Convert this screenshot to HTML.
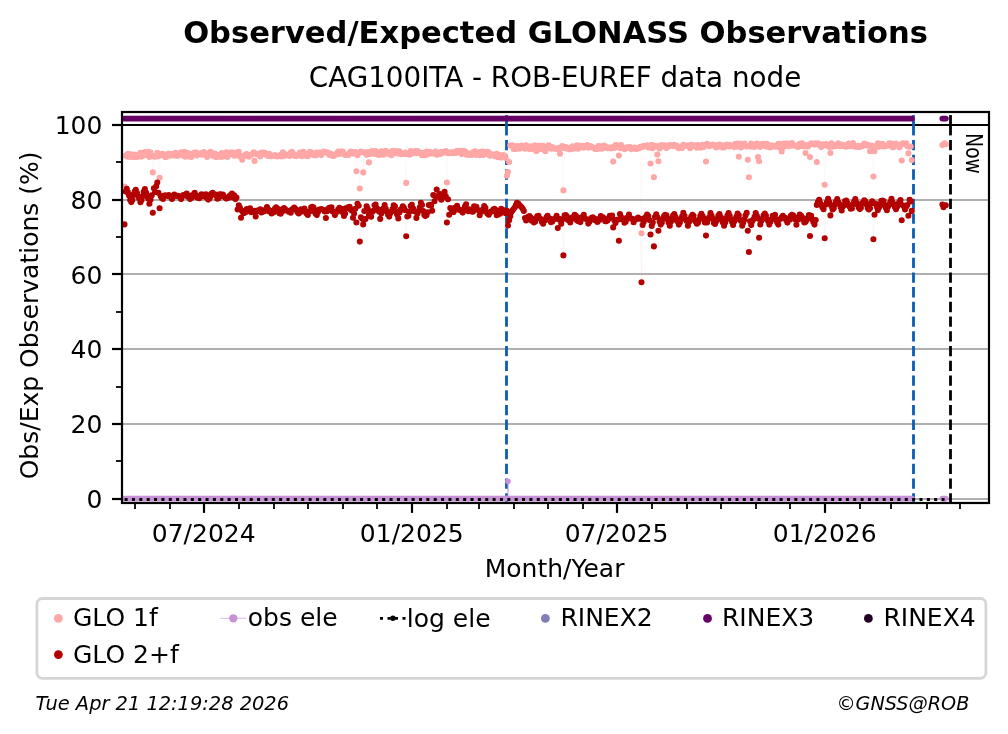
<!DOCTYPE html>
<html lang="en"><head><meta charset="utf-8"><title>Observed/Expected GLONASS Observations</title>
<style>html,body{margin:0;padding:0;background:#fff}svg text{fill:#000}</style></head>
<body>
<svg width="1008" height="734" viewBox="0 0 1008 734" style="display:block;will-change:transform;font-family:'DejaVu Sans','Liberation Sans',sans-serif">
<rect width="1008" height="734" fill="#fff"/>
<defs><clipPath id="ax"><rect x="122.0" y="112.0" width="867.0" height="391.0"/></clipPath></defs>
<g clip-path="url(#ax)">
<line x1="122.0" x2="989.0" y1="499" y2="499" stroke="#b0b0b0" stroke-width="2.2"/>
<line x1="122.0" x2="989.0" y1="424" y2="424" stroke="#b0b0b0" stroke-width="2.2"/>
<line x1="122.0" x2="989.0" y1="349" y2="349" stroke="#b0b0b0" stroke-width="2.2"/>
<line x1="122.0" x2="989.0" y1="274" y2="274" stroke="#b0b0b0" stroke-width="2.2"/>
<line x1="122.0" x2="989.0" y1="200" y2="200" stroke="#b0b0b0" stroke-width="2.2"/>
<line x1="122.0" x2="989.0" y1="125" y2="125" stroke="#000" stroke-width="2.1"/>
<line x1="506.5" x2="506.5" y1="503.5" y2="135.2" stroke="#0b5cb5" stroke-width="2.8" stroke-dasharray="10.3 4.42"/><line x1="506.5" x2="506.5" y1="135.2" y2="115.07" stroke="#0b5cb5" stroke-width="2.8"/>
<line x1="913.5" x2="913.5" y1="503.5" y2="135.2" stroke="#0b5cb5" stroke-width="2.8" stroke-dasharray="10.3 4.42"/><line x1="913.5" x2="913.5" y1="135.2" y2="115.07" stroke="#0b5cb5" stroke-width="2.8"/>
<line x1="950.5" x2="950.5" y1="503.5" y2="135.2" stroke="#000" stroke-width="2.8" stroke-dasharray="10.3 4.42"/><line x1="950.5" x2="950.5" y1="135.2" y2="115.07" stroke="#000" stroke-width="2.8"/>
<polyline points="124.5,498.6 125.6,498.6 126.8,498.6 127.9,498.6 129.0,498.6 130.2,498.6 131.3,498.6 132.4,498.6 133.6,498.6 134.7,498.6 135.8,498.6 137.0,498.6 138.1,498.6 139.2,498.6 140.4,498.6 141.5,498.6 142.6,498.6 143.7,498.6 144.9,498.6 146.0,498.6 147.1,498.6 148.3,498.6 149.4,498.6 150.5,498.6 151.7,498.6 152.8,498.6 153.9,498.6 155.1,498.6 156.2,498.6 157.3,498.6 158.5,498.6 159.6,498.6 160.7,498.6 161.8,498.6 163.0,498.6 164.1,498.6 165.2,498.6 166.4,498.6 167.5,498.6 168.6,498.6 169.8,498.6 170.9,498.6 172.0,498.6 173.2,498.6 174.3,498.6 175.4,498.6 176.6,498.6 177.7,498.6 178.8,498.6 179.9,498.6 181.1,498.6 182.2,498.6 183.3,498.6 184.5,498.6 185.6,498.6 186.7,498.6 187.9,498.6 189.0,498.6 190.1,498.6 191.3,498.6 192.4,498.6 193.5,498.6 194.7,498.6 195.8,498.6 196.9,498.6 198.0,498.6 199.2,498.6 200.3,498.6 201.4,498.6 202.6,498.6 203.7,498.6 204.8,498.6 206.0,498.6 207.1,498.6 208.2,498.6 209.4,498.6 210.5,498.6 211.6,498.6 212.7,498.6 213.9,498.6 215.0,498.6 216.1,498.6 217.3,498.6 218.4,498.6 219.5,498.6 220.7,498.6 221.8,498.6 222.9,498.6 224.1,498.6 225.2,498.6 226.3,498.6 227.5,498.6 228.6,498.6 229.7,498.6 230.8,498.6 232.0,498.6 233.1,498.6 234.2,498.6 235.4,498.6 236.5,498.6 237.6,498.6 238.8,498.6 239.9,498.6 241.0,498.6 242.2,498.6 243.3,498.6 244.4,498.6 245.6,498.6 246.7,498.6 247.8,498.6 248.9,498.6 250.1,498.6 251.2,498.6 252.3,498.6 253.5,498.6 254.6,498.6 255.7,498.6 256.9,498.6 258.0,498.6 259.1,498.6 260.3,498.6 261.4,498.6 262.5,498.6 263.7,498.6 264.8,498.6 265.9,498.6 267.0,498.6 268.2,498.6 269.3,498.6 270.4,498.6 271.6,498.6 272.7,498.6 273.8,498.6 275.0,498.6 276.1,498.6 277.2,498.6 278.4,498.6 279.5,498.6 280.6,498.6 281.8,498.6 282.9,498.6 284.0,498.6 285.1,498.6 286.3,498.6 287.4,498.6 288.5,498.6 289.7,498.6 290.8,498.6 291.9,498.6 293.1,498.6 294.2,498.6 295.3,498.6 296.5,498.6 297.6,498.6 298.7,498.6 299.9,498.6 301.0,498.6 302.1,498.6 303.2,498.6 304.4,498.6 305.5,498.6 306.6,498.6 307.8,498.6 308.9,498.6 310.0,498.6 311.2,498.6 312.3,498.6 313.4,498.6 314.6,498.6 315.7,498.6 316.8,498.6 318.0,498.6 319.1,498.6 320.2,498.6 321.3,498.6 322.5,498.6 323.6,498.6 324.7,498.6 325.9,498.6 327.0,498.6 328.1,498.6 329.3,498.6 330.4,498.6 331.5,498.6 332.7,498.6 333.8,498.6 334.9,498.6 336.1,498.6 337.2,498.6 338.3,498.6 339.4,498.6 340.6,498.6 341.7,498.6 342.8,498.6 344.0,498.6 345.1,498.6 346.2,498.6 347.4,498.6 348.5,498.6 349.6,498.6 350.8,498.6 351.9,498.6 353.0,498.6 354.1,498.6 355.3,498.6 356.4,498.6 357.5,498.6 358.7,498.6 359.8,498.6 360.9,498.6 362.1,498.6 363.2,498.6 364.3,498.6 365.5,498.6 366.6,498.6 367.7,498.6 368.9,498.6 370.0,498.6 371.1,498.6 372.2,498.6 373.4,498.6 374.5,498.6 375.6,498.6 376.8,498.6 377.9,498.6 379.0,498.6 380.2,498.6 381.3,498.6 382.4,498.6 383.6,498.6 384.7,498.6 385.8,498.6 387.0,498.6 388.1,498.6 389.2,498.6 390.3,498.6 391.5,498.6 392.6,498.6 393.7,498.6 394.9,498.6 396.0,498.6 397.1,498.6 398.3,498.6 399.4,498.6 400.5,498.6 401.7,498.6 402.8,498.6 403.9,498.6 405.1,498.6 406.2,498.6 407.3,498.6 408.4,498.6 409.6,498.6 410.7,498.6 411.8,498.6 413.0,498.6 414.1,498.6 415.2,498.6 416.4,498.6 417.5,498.6 418.6,498.6 419.8,498.6 420.9,498.6 422.0,498.6 423.2,498.6 424.3,498.6 425.4,498.6 426.5,498.6 427.7,498.6 428.8,498.6 429.9,498.6 431.1,498.6 432.2,498.6 433.3,498.6 434.5,498.6 435.6,498.6 436.7,498.6 437.9,498.6 439.0,498.6 440.1,498.6 441.3,498.6 442.4,498.6 443.5,498.6 444.6,498.6 445.8,498.6 446.9,498.6 448.0,498.6 449.2,498.6 450.3,498.6 451.4,498.6 452.6,498.6 453.7,498.6 454.8,498.6 456.0,498.6 457.1,498.6 458.2,498.6 459.4,498.6 460.5,498.6 461.6,498.6 462.7,498.6 463.9,498.6 465.0,498.6 466.1,498.6 467.3,498.6 468.4,498.6 469.5,498.6 470.7,498.6 471.8,498.6 472.9,498.6 474.1,498.6 475.2,498.6 476.3,498.6 477.5,498.6 478.6,498.6 479.7,498.6 480.8,498.6 482.0,498.6 483.1,498.6 484.2,498.6 485.4,498.6 486.5,498.6 487.6,498.6 488.8,498.6 489.9,498.6 491.0,498.6 492.2,498.6 493.3,498.6 494.4,498.6 495.5,498.6 496.7,498.6 497.8,498.6 498.9,498.6 500.1,498.6 501.2,498.6 502.3,498.6 503.5,498.6 504.6,498.6 505.7,498.6 506.9,498.6 508.0,481.3 509.1,498.6 510.3,498.6 511.4,498.6 512.5,498.6 513.6,498.6 514.8,498.6 515.9,498.6 517.0,498.6 518.2,498.6 519.3,498.6 520.4,498.6 521.6,498.6 522.7,498.6 523.8,498.6 525.0,498.6 526.1,498.6 527.2,498.6 528.4,498.6 529.5,498.6 530.6,498.6 531.7,498.6 532.9,498.6 534.0,498.6 535.1,498.6 536.3,498.6 537.4,498.6 538.5,498.6 539.7,498.6 540.8,498.6 541.9,498.6 543.1,498.6 544.2,498.6 545.3,498.6 546.5,498.6 547.6,498.6 548.7,498.6 549.8,498.6 551.0,498.6 552.1,498.6 553.2,498.6 554.4,498.6 555.5,498.6 556.6,498.6 557.8,498.6 558.9,498.6 560.0,498.6 561.2,498.6 562.3,498.6 563.4,498.6 564.6,498.6 565.7,498.6 566.8,498.6 567.9,498.6 569.1,498.6 570.2,498.6 571.3,498.6 572.5,498.6 573.6,498.6 574.7,498.6 575.9,498.6 577.0,498.6 578.1,498.6 579.3,498.6 580.4,498.6 581.5,498.6 582.7,498.6 583.8,498.6 584.9,498.6 586.0,498.6 587.2,498.6 588.3,498.6 589.4,498.6 590.6,498.6 591.7,498.6 592.8,498.6 594.0,498.6 595.1,498.6 596.2,498.6 597.4,498.6 598.5,498.6 599.6,498.6 600.8,498.6 601.9,498.6 603.0,498.6 604.1,498.6 605.3,498.6 606.4,498.6 607.5,498.6 608.7,498.6 609.8,498.6 610.9,498.6 612.1,498.6 613.2,498.6 614.3,498.6 615.5,498.6 616.6,498.6 617.7,498.6 618.9,498.6 620.0,498.6 621.1,498.6 622.2,498.6 623.4,498.6 624.5,498.6 625.6,498.6 626.8,498.6 627.9,498.6 629.0,498.6 630.2,498.6 631.3,498.6 632.4,498.6 633.6,498.6 634.7,498.6 635.8,498.6 636.9,498.6 638.1,498.6 639.2,498.6 640.3,498.6 641.5,498.6 642.6,498.6 643.7,498.6 644.9,498.6 646.0,498.6 647.1,498.6 648.3,498.6 649.4,498.6 650.5,498.6 651.7,498.6 652.8,498.6 653.9,498.6 655.0,498.6 656.2,498.6 657.3,498.6 658.4,498.6 659.6,498.6 660.7,498.6 661.8,498.6 663.0,498.6 664.1,498.6 665.2,498.6 666.4,498.6 667.5,498.6 668.6,498.6 669.8,498.6 670.9,498.6 672.0,498.6 673.1,498.6 674.3,498.6 675.4,498.6 676.5,498.6 677.7,498.6 678.8,498.6 679.9,498.6 681.1,498.6 682.2,498.6 683.3,498.6 684.5,498.6 685.6,498.6 686.7,498.6 687.9,498.6 689.0,498.6 690.1,498.6 691.2,498.6 692.4,498.6 693.5,498.6 694.6,498.6 695.8,498.6 696.9,498.6 698.0,498.6 699.2,498.6 700.3,498.6 701.4,498.6 702.6,498.6 703.7,498.6 704.8,498.6 706.0,498.6 707.1,498.6 708.2,498.6 709.3,498.6 710.5,498.6 711.6,498.6 712.7,498.6 713.9,498.6 715.0,498.6 716.1,498.6 717.3,498.6 718.4,498.6 719.5,498.6 720.7,498.6 721.8,498.6 722.9,498.6 724.1,498.6 725.2,498.6 726.3,498.6 727.4,498.6 728.6,498.6 729.7,498.6 730.8,498.6 732.0,498.6 733.1,498.6 734.2,498.6 735.4,498.6 736.5,498.6 737.6,498.6 738.8,498.6 739.9,498.6 741.0,498.6 742.2,498.6 743.3,498.6 744.4,498.6 745.5,498.6 746.7,498.6 747.8,498.6 748.9,498.6 750.1,498.6 751.2,498.6 752.3,498.6 753.5,498.6 754.6,498.6 755.7,498.6 756.9,498.6 758.0,498.6 759.1,498.6 760.3,498.6 761.4,498.6 762.5,498.6 763.6,498.6 764.8,498.6 765.9,498.6 767.0,498.6 768.2,498.6 769.3,498.6 770.4,498.6 771.6,498.6 772.7,498.6 773.8,498.6 775.0,498.6 776.1,498.6 777.2,498.6 778.3,498.6 779.5,498.6 780.6,498.6 781.7,498.6 782.9,498.6 784.0,498.6 785.1,498.6 786.3,498.6 787.4,498.6 788.5,498.6 789.7,498.6 790.8,498.6 791.9,498.6 793.1,498.6 794.2,498.6 795.3,498.6 796.4,498.6 797.6,498.6 798.7,498.6 799.8,498.6 801.0,498.6 802.1,498.6 803.2,498.6 804.4,498.6 805.5,498.6 806.6,498.6 807.8,498.6 808.9,498.6 810.0,498.6 811.2,498.6 812.3,498.6 813.4,498.6 814.5,498.6 815.7,498.6 816.8,498.6 817.9,498.6 819.1,498.6 820.2,498.6 821.3,498.6 822.5,498.6 823.6,498.6 824.7,498.6 825.9,498.6 827.0,498.6 828.1,498.6 829.3,498.6 830.4,498.6 831.5,498.6 832.6,498.6 833.8,498.6 834.9,498.6 836.0,498.6 837.2,498.6 838.3,498.6 839.4,498.6 840.6,498.6 841.7,498.6 842.8,498.6 844.0,498.6 845.1,498.6 846.2,498.6 847.4,498.6 848.5,498.6 849.6,498.6 850.7,498.6 851.9,498.6 853.0,498.6 854.1,498.6 855.3,498.6 856.4,498.6 857.5,498.6 858.7,498.6 859.8,498.6 860.9,498.6 862.1,498.6 863.2,498.6 864.3,498.6 865.5,498.6 866.6,498.6 867.7,498.6 868.8,498.6 870.0,498.6 871.1,498.6 872.2,498.6 873.4,498.6 874.5,498.6 875.6,498.6 876.8,498.6 877.9,498.6 879.0,498.6 880.2,498.6 881.3,498.6 882.4,498.6 883.6,498.6 884.7,498.6 885.8,498.6 886.9,498.6 888.1,498.6 889.2,498.6 890.3,498.6 891.5,498.6 892.6,498.6 893.7,498.6 894.9,498.6 896.0,498.6 897.1,498.6 898.3,498.6 899.4,498.6 900.5,498.6 901.7,498.6 902.8,498.6 903.9,498.6 905.0,498.6 906.2,498.6 907.3,498.6 908.4,498.6 909.6,498.6 910.7,498.6 911.8,498.6 942.4,498.6 943.5,498.6 944.6,498.6 945.8,498.6" stroke="#c791d6" stroke-width="1.0" stroke-opacity="0.6" fill="none"/>
<path d="M124.5 498.6h0M125.6 498.6h0M126.8 498.6h0M127.9 498.6h0M129.0 498.6h0M130.2 498.6h0M131.3 498.6h0M132.4 498.6h0M133.6 498.6h0M134.7 498.6h0M135.8 498.6h0M137.0 498.6h0M138.1 498.6h0M139.2 498.6h0M140.4 498.6h0M141.5 498.6h0M142.6 498.6h0M143.7 498.6h0M144.9 498.6h0M146.0 498.6h0M147.1 498.6h0M148.3 498.6h0M149.4 498.6h0M150.5 498.6h0M151.7 498.6h0M152.8 498.6h0M153.9 498.6h0M155.1 498.6h0M156.2 498.6h0M157.3 498.6h0M158.5 498.6h0M159.6 498.6h0M160.7 498.6h0M161.8 498.6h0M163.0 498.6h0M164.1 498.6h0M165.2 498.6h0M166.4 498.6h0M167.5 498.6h0M168.6 498.6h0M169.8 498.6h0M170.9 498.6h0M172.0 498.6h0M173.2 498.6h0M174.3 498.6h0M175.4 498.6h0M176.6 498.6h0M177.7 498.6h0M178.8 498.6h0M179.9 498.6h0M181.1 498.6h0M182.2 498.6h0M183.3 498.6h0M184.5 498.6h0M185.6 498.6h0M186.7 498.6h0M187.9 498.6h0M189.0 498.6h0M190.1 498.6h0M191.3 498.6h0M192.4 498.6h0M193.5 498.6h0M194.7 498.6h0M195.8 498.6h0M196.9 498.6h0M198.0 498.6h0M199.2 498.6h0M200.3 498.6h0M201.4 498.6h0M202.6 498.6h0M203.7 498.6h0M204.8 498.6h0M206.0 498.6h0M207.1 498.6h0M208.2 498.6h0M209.4 498.6h0M210.5 498.6h0M211.6 498.6h0M212.7 498.6h0M213.9 498.6h0M215.0 498.6h0M216.1 498.6h0M217.3 498.6h0M218.4 498.6h0M219.5 498.6h0M220.7 498.6h0M221.8 498.6h0M222.9 498.6h0M224.1 498.6h0M225.2 498.6h0M226.3 498.6h0M227.5 498.6h0M228.6 498.6h0M229.7 498.6h0M230.8 498.6h0M232.0 498.6h0M233.1 498.6h0M234.2 498.6h0M235.4 498.6h0M236.5 498.6h0M237.6 498.6h0M238.8 498.6h0M239.9 498.6h0M241.0 498.6h0M242.2 498.6h0M243.3 498.6h0M244.4 498.6h0M245.6 498.6h0M246.7 498.6h0M247.8 498.6h0M248.9 498.6h0M250.1 498.6h0M251.2 498.6h0M252.3 498.6h0M253.5 498.6h0M254.6 498.6h0M255.7 498.6h0M256.9 498.6h0M258.0 498.6h0M259.1 498.6h0M260.3 498.6h0M261.4 498.6h0M262.5 498.6h0M263.7 498.6h0M264.8 498.6h0M265.9 498.6h0M267.0 498.6h0M268.2 498.6h0M269.3 498.6h0M270.4 498.6h0M271.6 498.6h0M272.7 498.6h0M273.8 498.6h0M275.0 498.6h0M276.1 498.6h0M277.2 498.6h0M278.4 498.6h0M279.5 498.6h0M280.6 498.6h0M281.8 498.6h0M282.9 498.6h0M284.0 498.6h0M285.1 498.6h0M286.3 498.6h0M287.4 498.6h0M288.5 498.6h0M289.7 498.6h0M290.8 498.6h0M291.9 498.6h0M293.1 498.6h0M294.2 498.6h0M295.3 498.6h0M296.5 498.6h0M297.6 498.6h0M298.7 498.6h0M299.9 498.6h0M301.0 498.6h0M302.1 498.6h0M303.2 498.6h0M304.4 498.6h0M305.5 498.6h0M306.6 498.6h0M307.8 498.6h0M308.9 498.6h0M310.0 498.6h0M311.2 498.6h0M312.3 498.6h0M313.4 498.6h0M314.6 498.6h0M315.7 498.6h0M316.8 498.6h0M318.0 498.6h0M319.1 498.6h0M320.2 498.6h0M321.3 498.6h0M322.5 498.6h0M323.6 498.6h0M324.7 498.6h0M325.9 498.6h0M327.0 498.6h0M328.1 498.6h0M329.3 498.6h0M330.4 498.6h0M331.5 498.6h0M332.7 498.6h0M333.8 498.6h0M334.9 498.6h0M336.1 498.6h0M337.2 498.6h0M338.3 498.6h0M339.4 498.6h0M340.6 498.6h0M341.7 498.6h0M342.8 498.6h0M344.0 498.6h0M345.1 498.6h0M346.2 498.6h0M347.4 498.6h0M348.5 498.6h0M349.6 498.6h0M350.8 498.6h0M351.9 498.6h0M353.0 498.6h0M354.1 498.6h0M355.3 498.6h0M356.4 498.6h0M357.5 498.6h0M358.7 498.6h0M359.8 498.6h0M360.9 498.6h0M362.1 498.6h0M363.2 498.6h0M364.3 498.6h0M365.5 498.6h0M366.6 498.6h0M367.7 498.6h0M368.9 498.6h0M370.0 498.6h0M371.1 498.6h0M372.2 498.6h0M373.4 498.6h0M374.5 498.6h0M375.6 498.6h0M376.8 498.6h0M377.9 498.6h0M379.0 498.6h0M380.2 498.6h0M381.3 498.6h0M382.4 498.6h0M383.6 498.6h0M384.7 498.6h0M385.8 498.6h0M387.0 498.6h0M388.1 498.6h0M389.2 498.6h0M390.3 498.6h0M391.5 498.6h0M392.6 498.6h0M393.7 498.6h0M394.9 498.6h0M396.0 498.6h0M397.1 498.6h0M398.3 498.6h0M399.4 498.6h0M400.5 498.6h0M401.7 498.6h0M402.8 498.6h0M403.9 498.6h0M405.1 498.6h0M406.2 498.6h0M407.3 498.6h0M408.4 498.6h0M409.6 498.6h0M410.7 498.6h0M411.8 498.6h0M413.0 498.6h0M414.1 498.6h0M415.2 498.6h0M416.4 498.6h0M417.5 498.6h0M418.6 498.6h0M419.8 498.6h0M420.9 498.6h0M422.0 498.6h0M423.2 498.6h0M424.3 498.6h0M425.4 498.6h0M426.5 498.6h0M427.7 498.6h0M428.8 498.6h0M429.9 498.6h0M431.1 498.6h0M432.2 498.6h0M433.3 498.6h0M434.5 498.6h0M435.6 498.6h0M436.7 498.6h0M437.9 498.6h0M439.0 498.6h0M440.1 498.6h0M441.3 498.6h0M442.4 498.6h0M443.5 498.6h0M444.6 498.6h0M445.8 498.6h0M446.9 498.6h0M448.0 498.6h0M449.2 498.6h0M450.3 498.6h0M451.4 498.6h0M452.6 498.6h0M453.7 498.6h0M454.8 498.6h0M456.0 498.6h0M457.1 498.6h0M458.2 498.6h0M459.4 498.6h0M460.5 498.6h0M461.6 498.6h0M462.7 498.6h0M463.9 498.6h0M465.0 498.6h0M466.1 498.6h0M467.3 498.6h0M468.4 498.6h0M469.5 498.6h0M470.7 498.6h0M471.8 498.6h0M472.9 498.6h0M474.1 498.6h0M475.2 498.6h0M476.3 498.6h0M477.5 498.6h0M478.6 498.6h0M479.7 498.6h0M480.8 498.6h0M482.0 498.6h0M483.1 498.6h0M484.2 498.6h0M485.4 498.6h0M486.5 498.6h0M487.6 498.6h0M488.8 498.6h0M489.9 498.6h0M491.0 498.6h0M492.2 498.6h0M493.3 498.6h0M494.4 498.6h0M495.5 498.6h0M496.7 498.6h0M497.8 498.6h0M498.9 498.6h0M500.1 498.6h0M501.2 498.6h0M502.3 498.6h0M503.5 498.6h0M504.6 498.6h0M505.7 498.6h0M506.9 498.6h0M508.0 481.3h0M509.1 498.6h0M510.3 498.6h0M511.4 498.6h0M512.5 498.6h0M513.6 498.6h0M514.8 498.6h0M515.9 498.6h0M517.0 498.6h0M518.2 498.6h0M519.3 498.6h0M520.4 498.6h0M521.6 498.6h0M522.7 498.6h0M523.8 498.6h0M525.0 498.6h0M526.1 498.6h0M527.2 498.6h0M528.4 498.6h0M529.5 498.6h0M530.6 498.6h0M531.7 498.6h0M532.9 498.6h0M534.0 498.6h0M535.1 498.6h0M536.3 498.6h0M537.4 498.6h0M538.5 498.6h0M539.7 498.6h0M540.8 498.6h0M541.9 498.6h0M543.1 498.6h0M544.2 498.6h0M545.3 498.6h0M546.5 498.6h0M547.6 498.6h0M548.7 498.6h0M549.8 498.6h0M551.0 498.6h0M552.1 498.6h0M553.2 498.6h0M554.4 498.6h0M555.5 498.6h0M556.6 498.6h0M557.8 498.6h0M558.9 498.6h0M560.0 498.6h0M561.2 498.6h0M562.3 498.6h0M563.4 498.6h0M564.6 498.6h0M565.7 498.6h0M566.8 498.6h0M567.9 498.6h0M569.1 498.6h0M570.2 498.6h0M571.3 498.6h0M572.5 498.6h0M573.6 498.6h0M574.7 498.6h0M575.9 498.6h0M577.0 498.6h0M578.1 498.6h0M579.3 498.6h0M580.4 498.6h0M581.5 498.6h0M582.7 498.6h0M583.8 498.6h0M584.9 498.6h0M586.0 498.6h0M587.2 498.6h0M588.3 498.6h0M589.4 498.6h0M590.6 498.6h0M591.7 498.6h0M592.8 498.6h0M594.0 498.6h0M595.1 498.6h0M596.2 498.6h0M597.4 498.6h0M598.5 498.6h0M599.6 498.6h0M600.8 498.6h0M601.9 498.6h0M603.0 498.6h0M604.1 498.6h0M605.3 498.6h0M606.4 498.6h0M607.5 498.6h0M608.7 498.6h0M609.8 498.6h0M610.9 498.6h0M612.1 498.6h0M613.2 498.6h0M614.3 498.6h0M615.5 498.6h0M616.6 498.6h0M617.7 498.6h0M618.9 498.6h0M620.0 498.6h0M621.1 498.6h0M622.2 498.6h0M623.4 498.6h0M624.5 498.6h0M625.6 498.6h0M626.8 498.6h0M627.9 498.6h0M629.0 498.6h0M630.2 498.6h0M631.3 498.6h0M632.4 498.6h0M633.6 498.6h0M634.7 498.6h0M635.8 498.6h0M636.9 498.6h0M638.1 498.6h0M639.2 498.6h0M640.3 498.6h0M641.5 498.6h0M642.6 498.6h0M643.7 498.6h0M644.9 498.6h0M646.0 498.6h0M647.1 498.6h0M648.3 498.6h0M649.4 498.6h0M650.5 498.6h0M651.7 498.6h0M652.8 498.6h0M653.9 498.6h0M655.0 498.6h0M656.2 498.6h0M657.3 498.6h0M658.4 498.6h0M659.6 498.6h0M660.7 498.6h0M661.8 498.6h0M663.0 498.6h0M664.1 498.6h0M665.2 498.6h0M666.4 498.6h0M667.5 498.6h0M668.6 498.6h0M669.8 498.6h0M670.9 498.6h0M672.0 498.6h0M673.1 498.6h0M674.3 498.6h0M675.4 498.6h0M676.5 498.6h0M677.7 498.6h0M678.8 498.6h0M679.9 498.6h0M681.1 498.6h0M682.2 498.6h0M683.3 498.6h0M684.5 498.6h0M685.6 498.6h0M686.7 498.6h0M687.9 498.6h0M689.0 498.6h0M690.1 498.6h0M691.2 498.6h0M692.4 498.6h0M693.5 498.6h0M694.6 498.6h0M695.8 498.6h0M696.9 498.6h0M698.0 498.6h0M699.2 498.6h0M700.3 498.6h0M701.4 498.6h0M702.6 498.6h0M703.7 498.6h0M704.8 498.6h0M706.0 498.6h0M707.1 498.6h0M708.2 498.6h0M709.3 498.6h0M710.5 498.6h0M711.6 498.6h0M712.7 498.6h0M713.9 498.6h0M715.0 498.6h0M716.1 498.6h0M717.3 498.6h0M718.4 498.6h0M719.5 498.6h0M720.7 498.6h0M721.8 498.6h0M722.9 498.6h0M724.1 498.6h0M725.2 498.6h0M726.3 498.6h0M727.4 498.6h0M728.6 498.6h0M729.7 498.6h0M730.8 498.6h0M732.0 498.6h0M733.1 498.6h0M734.2 498.6h0M735.4 498.6h0M736.5 498.6h0M737.6 498.6h0M738.8 498.6h0M739.9 498.6h0M741.0 498.6h0M742.2 498.6h0M743.3 498.6h0M744.4 498.6h0M745.5 498.6h0M746.7 498.6h0M747.8 498.6h0M748.9 498.6h0M750.1 498.6h0M751.2 498.6h0M752.3 498.6h0M753.5 498.6h0M754.6 498.6h0M755.7 498.6h0M756.9 498.6h0M758.0 498.6h0M759.1 498.6h0M760.3 498.6h0M761.4 498.6h0M762.5 498.6h0M763.6 498.6h0M764.8 498.6h0M765.9 498.6h0M767.0 498.6h0M768.2 498.6h0M769.3 498.6h0M770.4 498.6h0M771.6 498.6h0M772.7 498.6h0M773.8 498.6h0M775.0 498.6h0M776.1 498.6h0M777.2 498.6h0M778.3 498.6h0M779.5 498.6h0M780.6 498.6h0M781.7 498.6h0M782.9 498.6h0M784.0 498.6h0M785.1 498.6h0M786.3 498.6h0M787.4 498.6h0M788.5 498.6h0M789.7 498.6h0M790.8 498.6h0M791.9 498.6h0M793.1 498.6h0M794.2 498.6h0M795.3 498.6h0M796.4 498.6h0M797.6 498.6h0M798.7 498.6h0M799.8 498.6h0M801.0 498.6h0M802.1 498.6h0M803.2 498.6h0M804.4 498.6h0M805.5 498.6h0M806.6 498.6h0M807.8 498.6h0M808.9 498.6h0M810.0 498.6h0M811.2 498.6h0M812.3 498.6h0M813.4 498.6h0M814.5 498.6h0M815.7 498.6h0M816.8 498.6h0M817.9 498.6h0M819.1 498.6h0M820.2 498.6h0M821.3 498.6h0M822.5 498.6h0M823.6 498.6h0M824.7 498.6h0M825.9 498.6h0M827.0 498.6h0M828.1 498.6h0M829.3 498.6h0M830.4 498.6h0M831.5 498.6h0M832.6 498.6h0M833.8 498.6h0M834.9 498.6h0M836.0 498.6h0M837.2 498.6h0M838.3 498.6h0M839.4 498.6h0M840.6 498.6h0M841.7 498.6h0M842.8 498.6h0M844.0 498.6h0M845.1 498.6h0M846.2 498.6h0M847.4 498.6h0M848.5 498.6h0M849.6 498.6h0M850.7 498.6h0M851.9 498.6h0M853.0 498.6h0M854.1 498.6h0M855.3 498.6h0M856.4 498.6h0M857.5 498.6h0M858.7 498.6h0M859.8 498.6h0M860.9 498.6h0M862.1 498.6h0M863.2 498.6h0M864.3 498.6h0M865.5 498.6h0M866.6 498.6h0M867.7 498.6h0M868.8 498.6h0M870.0 498.6h0M871.1 498.6h0M872.2 498.6h0M873.4 498.6h0M874.5 498.6h0M875.6 498.6h0M876.8 498.6h0M877.9 498.6h0M879.0 498.6h0M880.2 498.6h0M881.3 498.6h0M882.4 498.6h0M883.6 498.6h0M884.7 498.6h0M885.8 498.6h0M886.9 498.6h0M888.1 498.6h0M889.2 498.6h0M890.3 498.6h0M891.5 498.6h0M892.6 498.6h0M893.7 498.6h0M894.9 498.6h0M896.0 498.6h0M897.1 498.6h0M898.3 498.6h0M899.4 498.6h0M900.5 498.6h0M901.7 498.6h0M902.8 498.6h0M903.9 498.6h0M905.0 498.6h0M906.2 498.6h0M907.3 498.6h0M908.4 498.6h0M909.6 498.6h0M910.7 498.6h0M911.8 498.6h0M942.4 498.6h0M943.5 498.6h0M944.6 498.6h0M945.8 498.6h0" stroke="#c791d6" stroke-width="5.6" stroke-linecap="round" fill="none"/>
<line x1="124.6" x2="949.2" y1="499.5" y2="499.5" stroke="#000" stroke-width="2.9" stroke-dasharray="3 4.36"/>
<polyline points="124.5,186.6 125.6,155.5 126.8,156.5 127.9,153.7 129.0,156.9 130.2,154.3 131.3,155.3 132.4,157.0 133.6,154.5 134.7,157.1 135.8,154.9 137.0,156.9 138.1,156.8 139.2,154.9 140.4,152.7 141.5,156.6 142.6,156.1 143.7,153.8 144.9,152.0 146.0,154.1 147.1,155.1 148.3,151.8 149.4,157.1 150.5,152.5 151.7,155.7 152.8,172.4 153.9,156.5 155.1,156.7 156.2,155.6 157.3,152.7 158.5,156.3 159.6,177.7 160.7,154.1 161.8,153.7 163.0,155.2 164.1,154.2 165.2,157.0 166.4,157.0 167.5,156.2 168.6,153.5 169.8,154.9 170.9,155.6 172.0,154.0 173.2,154.8 174.3,155.6 175.4,152.9 176.6,153.4 177.7,155.9 178.8,154.1 179.9,154.4 181.1,152.4 182.2,153.2 183.3,155.7 184.5,151.8 185.6,156.7 186.7,155.0 187.9,153.1 189.0,156.5 190.1,154.6 191.3,157.1 192.4,153.6 193.5,153.0 194.7,154.1 195.8,152.4 196.9,155.6 198.0,153.4 199.2,154.0 200.3,154.1 201.4,154.8 202.6,152.6 203.7,152.0 204.8,154.7 206.0,153.6 207.1,157.0 208.2,153.4 209.4,153.7 210.5,151.8 211.6,152.7 212.7,155.7 213.9,155.2 215.0,153.6 216.1,157.2 217.3,154.7 218.4,156.4 219.5,156.7 220.7,157.0 221.8,153.0 222.9,156.6 224.1,155.9 225.2,155.1 226.3,152.4 227.5,156.9 228.6,154.8 229.7,154.2 230.8,152.4 232.0,152.7 233.1,152.5 234.2,155.8 235.4,155.0 236.5,155.3 237.6,152.4 238.8,151.9 239.9,156.5 241.0,156.3 242.2,159.7 243.3,156.0 244.4,156.0 245.6,154.5 246.7,154.0 247.8,155.6 248.9,156.7 250.1,154.8 251.2,155.0 252.3,154.1 253.5,152.3 254.6,160.9 255.7,153.5 256.9,154.3 258.0,153.8 259.1,153.5 260.3,156.4 261.4,152.5 262.5,153.0 263.7,152.6 264.8,152.9 265.9,154.8 267.0,154.8 268.2,156.1 269.3,153.7 270.4,156.3 271.6,156.3 272.7,155.6 273.8,155.8 275.0,155.0 276.1,156.3 277.2,156.5 278.4,155.8 279.5,156.0 280.6,154.8 281.8,156.4 282.9,152.4 284.0,153.6 285.1,155.8 286.3,155.3 287.4,154.8 288.5,154.8 289.7,155.9 290.8,152.5 291.9,151.8 293.1,154.2 294.2,154.2 295.3,156.0 296.5,155.9 297.6,154.8 298.7,155.1 299.9,152.5 301.0,155.6 302.1,156.2 303.2,151.9 304.4,153.9 305.5,155.6 306.6,153.8 307.8,156.2 308.9,153.8 310.0,151.7 311.2,152.3 312.3,153.0 313.4,155.0 314.6,154.5 315.7,155.4 316.8,152.6 318.0,153.7 319.1,152.6 320.2,154.6 321.3,155.1 322.5,152.4 323.6,151.6 324.7,152.2 325.9,152.4 327.0,152.3 328.1,152.6 329.3,155.0 330.4,153.6 331.5,154.4 332.7,155.9 333.8,155.9 334.9,154.7 336.1,154.8 337.2,152.8 338.3,151.5 339.4,153.9 340.6,151.6 341.7,151.3 342.8,151.5 344.0,154.2 345.1,154.9 346.2,154.8 347.4,154.9 348.5,154.9 349.6,152.9 350.8,151.6 351.9,151.9 353.0,153.6 354.1,152.8 355.3,152.1 356.4,171.3 357.5,155.3 358.7,152.7 359.8,188.5 360.9,151.5 362.1,152.1 363.2,172.4 364.3,152.2 365.5,153.4 366.6,154.8 367.7,152.0 368.9,162.4 370.0,154.1 371.1,151.9 372.2,151.1 373.4,153.7 374.5,153.7 375.6,151.1 376.8,152.2 377.9,154.7 379.0,154.9 380.2,154.8 381.3,151.3 382.4,151.7 383.6,154.8 384.7,151.6 385.8,150.9 387.0,152.4 388.1,153.8 389.2,152.8 390.3,154.8 391.5,155.3 392.6,150.8 393.7,152.3 394.9,152.9 396.0,151.0 397.1,153.3 398.3,151.2 399.4,151.4 400.5,154.3 401.7,154.1 402.8,153.9 403.9,154.1 405.1,152.5 406.2,182.9 407.3,154.1 408.4,153.3 409.6,154.7 410.7,151.0 411.8,153.6 413.0,153.1 414.1,152.6 415.2,151.1 416.4,153.3 417.5,151.0 418.6,152.9 419.8,152.8 420.9,152.8 422.0,155.2 423.2,153.2 424.3,154.4 425.4,155.2 426.5,151.6 427.7,154.5 428.8,153.1 429.9,151.9 431.1,152.7 432.2,153.8 433.3,152.9 434.5,152.7 435.6,151.6 436.7,154.8 437.9,152.7 439.0,154.1 440.1,154.0 441.3,151.7 442.4,152.9 443.5,152.7 444.6,151.7 445.8,151.0 446.9,182.5 448.0,153.2 449.2,152.4 450.3,152.9 451.4,152.9 452.6,152.1 453.7,153.2 454.8,152.8 456.0,153.0 457.1,150.9 458.2,152.0 459.4,151.2 460.5,150.9 461.6,154.1 462.7,152.7 463.9,150.9 465.0,151.4 466.1,154.6 467.3,154.7 468.4,153.2 469.5,154.9 470.7,154.2 471.8,155.0 472.9,152.3 474.1,151.9 475.2,151.4 476.3,154.9 477.5,152.4 478.6,152.7 479.7,155.2 480.8,151.8 482.0,151.5 483.1,155.0 484.2,151.7 485.4,154.3 486.5,154.0 487.6,151.7 488.8,152.5 489.9,155.7 491.0,154.6 492.2,154.3 493.3,155.3 494.4,156.1 495.5,155.6 496.7,153.9 497.8,157.3 498.9,154.9 500.1,155.6 501.2,157.6 502.3,156.3 503.5,155.1 504.6,155.7 505.7,158.0 506.9,175.8 508.0,172.1 509.1,162.0 510.3,145.2 511.4,146.0 512.5,145.2 513.6,148.9 514.8,148.2 515.9,149.1 517.0,146.0 518.2,148.2 519.3,148.8 520.4,147.5 521.6,145.5 522.7,145.9 523.8,148.2 525.0,148.7 526.1,145.4 527.2,146.9 528.4,146.4 529.5,148.9 530.6,149.0 531.7,146.4 532.9,147.5 534.0,149.0 535.1,145.4 536.3,151.2 537.4,146.6 538.5,145.9 539.7,148.9 540.8,145.7 541.9,149.0 543.1,145.7 544.2,147.4 545.3,151.2 546.5,147.8 547.6,146.9 548.7,145.4 549.8,148.1 551.0,148.7 552.1,147.1 553.2,148.3 554.4,148.8 555.5,148.6 556.6,149.0 557.8,148.4 558.9,147.9 560.0,153.8 561.2,148.0 562.3,146.1 563.4,190.4 564.6,148.0 565.7,147.1 566.8,148.5 567.9,147.8 569.1,149.2 570.2,148.2 571.3,149.2 572.5,146.2 573.6,146.9 574.7,148.4 575.9,147.2 577.0,145.3 578.1,148.8 579.3,145.8 580.4,147.4 581.5,147.1 582.7,145.7 583.8,147.6 584.9,147.1 586.0,146.3 587.2,145.1 588.3,147.8 589.4,145.7 590.6,146.2 591.7,146.5 592.8,147.5 594.0,147.7 595.1,149.0 596.2,148.7 597.4,148.9 598.5,146.1 599.6,148.1 600.8,148.5 601.9,148.8 603.0,145.7 604.1,145.5 605.3,146.4 606.4,148.0 607.5,148.2 608.7,148.0 609.8,147.3 610.9,148.5 612.1,147.3 613.2,161.6 614.3,148.1 615.5,145.1 616.6,145.1 617.7,146.9 618.9,155.6 620.0,148.1 621.1,145.1 622.2,147.9 623.4,147.7 624.5,149.2 625.6,147.6 626.8,147.2 627.9,147.0 629.0,148.3 630.2,147.0 631.3,149.1 632.4,148.0 633.6,148.8 634.7,147.5 635.8,149.0 636.9,149.0 638.1,147.9 639.2,148.2 640.3,146.7 641.5,233.3 642.6,146.9 643.7,145.9 644.9,146.3 646.0,146.0 647.1,145.3 648.3,147.4 649.4,147.6 650.5,163.5 651.7,144.8 652.8,148.3 653.9,177.3 655.0,145.8 656.2,146.1 657.3,154.5 658.4,161.2 659.6,148.6 660.7,145.3 661.8,145.0 663.0,146.1 664.1,145.6 665.2,145.3 666.4,148.1 667.5,146.4 668.6,146.5 669.8,145.1 670.9,145.2 672.0,145.1 673.1,146.1 674.3,144.8 675.4,145.6 676.5,145.6 677.7,147.5 678.8,148.3 679.9,147.8 681.1,146.9 682.2,147.9 683.3,144.8 684.5,146.0 685.6,145.7 686.7,145.6 687.9,145.4 689.0,146.2 690.1,148.2 691.2,144.8 692.4,145.0 693.5,146.0 694.6,145.9 695.8,145.3 696.9,147.8 698.0,145.0 699.2,147.0 700.3,147.7 701.4,146.9 702.6,144.9 703.7,147.1 704.8,144.8 706.0,161.6 707.1,143.8 708.2,145.8 709.3,146.2 710.5,145.8 711.6,144.9 712.7,144.6 713.9,145.2 715.0,145.0 716.1,147.4 717.3,147.1 718.4,146.6 719.5,144.5 720.7,146.4 721.8,145.3 722.9,147.6 724.1,147.4 725.2,146.5 726.3,144.8 727.4,144.7 728.6,144.8 729.7,146.4 730.8,145.4 732.0,145.6 733.1,145.6 734.2,147.1 735.4,143.8 736.5,146.7 737.6,143.5 738.8,156.8 739.9,143.6 741.0,147.5 742.2,145.6 743.3,144.1 744.4,143.5 745.5,145.6 746.7,146.4 747.8,159.7 748.9,177.3 750.1,146.6 751.2,143.5 752.3,146.6 753.5,145.1 754.6,146.9 755.7,145.3 756.9,143.5 758.0,157.1 759.1,161.2 760.3,146.9 761.4,144.0 762.5,145.3 763.6,143.7 764.8,144.5 765.9,146.5 767.0,143.7 768.2,145.4 769.3,147.3 770.4,147.4 771.6,145.3 772.7,145.5 773.8,146.1 775.0,146.8 776.1,145.9 777.2,146.1 778.3,143.9 779.5,147.4 780.6,144.2 781.7,151.5 782.9,143.8 784.0,146.8 785.1,143.5 786.3,144.3 787.4,143.6 788.5,146.1 789.7,145.8 790.8,145.7 791.9,143.1 793.1,144.8 794.2,145.8 795.3,145.5 796.4,146.1 797.6,147.1 798.7,146.8 799.8,143.8 801.0,146.1 802.1,143.4 803.2,146.2 804.4,146.2 805.5,153.0 806.6,145.1 807.8,146.5 808.9,145.7 810.0,157.1 811.2,143.3 812.3,143.6 813.4,143.9 814.5,144.6 815.7,143.4 816.8,162.0 817.9,143.3 819.1,145.0 820.2,144.3 821.3,147.1 822.5,144.2 823.6,145.4 824.7,184.8 825.9,144.1 827.0,144.6 828.1,146.1 829.3,147.1 830.4,153.0 831.5,143.4 832.6,146.7 833.8,145.3 834.9,145.8 836.0,146.0 837.2,144.2 838.3,143.2 839.4,146.2 840.6,144.5 841.7,146.0 842.8,144.9 844.0,145.6 845.1,146.6 846.2,146.6 847.4,146.4 848.5,143.5 849.6,145.2 850.7,146.3 851.9,143.5 853.0,143.1 854.1,145.4 855.3,146.7 856.4,146.5 857.5,146.9 858.7,145.8 859.8,146.9 860.9,146.3 862.1,146.2 863.2,144.9 864.3,143.6 865.5,144.1 866.6,145.5 867.7,145.5 868.8,145.1 870.0,151.2 871.1,145.7 872.2,145.9 873.4,176.6 874.5,151.2 875.6,147.0 876.8,146.1 877.9,143.2 879.0,146.7 880.2,145.2 881.3,144.6 882.4,143.7 883.6,146.4 884.7,146.1 885.8,146.2 886.9,145.6 888.1,145.4 889.2,143.3 890.3,143.7 891.5,143.6 892.6,147.2 893.7,147.1 894.9,144.3 896.0,143.5 897.1,145.3 898.3,144.8 899.4,147.3 900.5,145.6 901.7,160.5 902.8,143.4 903.9,143.8 905.0,143.7 906.2,143.2 907.3,146.2 908.4,153.4 909.6,146.8 910.7,146.6 911.8,160.1 942.4,145.1 943.5,144.4 944.6,143.3 945.8,144.2" stroke="#ffa6a6" stroke-width="1.0" stroke-opacity="0.07" fill="none"/>
<path d="M124.5 186.6h0M125.6 155.5h0M126.8 156.5h0M127.9 153.7h0M129.0 156.9h0M130.2 154.3h0M131.3 155.3h0M132.4 157.0h0M133.6 154.5h0M134.7 157.1h0M135.8 154.9h0M137.0 156.9h0M138.1 156.8h0M139.2 154.9h0M140.4 152.7h0M141.5 156.6h0M142.6 156.1h0M143.7 153.8h0M144.9 152.0h0M146.0 154.1h0M147.1 155.1h0M148.3 151.8h0M149.4 157.1h0M150.5 152.5h0M151.7 155.7h0M152.8 172.4h0M153.9 156.5h0M155.1 156.7h0M156.2 155.6h0M157.3 152.7h0M158.5 156.3h0M159.6 177.7h0M160.7 154.1h0M161.8 153.7h0M163.0 155.2h0M164.1 154.2h0M165.2 157.0h0M166.4 157.0h0M167.5 156.2h0M168.6 153.5h0M169.8 154.9h0M170.9 155.6h0M172.0 154.0h0M173.2 154.8h0M174.3 155.6h0M175.4 152.9h0M176.6 153.4h0M177.7 155.9h0M178.8 154.1h0M179.9 154.4h0M181.1 152.4h0M182.2 153.2h0M183.3 155.7h0M184.5 151.8h0M185.6 156.7h0M186.7 155.0h0M187.9 153.1h0M189.0 156.5h0M190.1 154.6h0M191.3 157.1h0M192.4 153.6h0M193.5 153.0h0M194.7 154.1h0M195.8 152.4h0M196.9 155.6h0M198.0 153.4h0M199.2 154.0h0M200.3 154.1h0M201.4 154.8h0M202.6 152.6h0M203.7 152.0h0M204.8 154.7h0M206.0 153.6h0M207.1 157.0h0M208.2 153.4h0M209.4 153.7h0M210.5 151.8h0M211.6 152.7h0M212.7 155.7h0M213.9 155.2h0M215.0 153.6h0M216.1 157.2h0M217.3 154.7h0M218.4 156.4h0M219.5 156.7h0M220.7 157.0h0M221.8 153.0h0M222.9 156.6h0M224.1 155.9h0M225.2 155.1h0M226.3 152.4h0M227.5 156.9h0M228.6 154.8h0M229.7 154.2h0M230.8 152.4h0M232.0 152.7h0M233.1 152.5h0M234.2 155.8h0M235.4 155.0h0M236.5 155.3h0M237.6 152.4h0M238.8 151.9h0M239.9 156.5h0M241.0 156.3h0M242.2 159.7h0M243.3 156.0h0M244.4 156.0h0M245.6 154.5h0M246.7 154.0h0M247.8 155.6h0M248.9 156.7h0M250.1 154.8h0M251.2 155.0h0M252.3 154.1h0M253.5 152.3h0M254.6 160.9h0M255.7 153.5h0M256.9 154.3h0M258.0 153.8h0M259.1 153.5h0M260.3 156.4h0M261.4 152.5h0M262.5 153.0h0M263.7 152.6h0M264.8 152.9h0M265.9 154.8h0M267.0 154.8h0M268.2 156.1h0M269.3 153.7h0M270.4 156.3h0M271.6 156.3h0M272.7 155.6h0M273.8 155.8h0M275.0 155.0h0M276.1 156.3h0M277.2 156.5h0M278.4 155.8h0M279.5 156.0h0M280.6 154.8h0M281.8 156.4h0M282.9 152.4h0M284.0 153.6h0M285.1 155.8h0M286.3 155.3h0M287.4 154.8h0M288.5 154.8h0M289.7 155.9h0M290.8 152.5h0M291.9 151.8h0M293.1 154.2h0M294.2 154.2h0M295.3 156.0h0M296.5 155.9h0M297.6 154.8h0M298.7 155.1h0M299.9 152.5h0M301.0 155.6h0M302.1 156.2h0M303.2 151.9h0M304.4 153.9h0M305.5 155.6h0M306.6 153.8h0M307.8 156.2h0M308.9 153.8h0M310.0 151.7h0M311.2 152.3h0M312.3 153.0h0M313.4 155.0h0M314.6 154.5h0M315.7 155.4h0M316.8 152.6h0M318.0 153.7h0M319.1 152.6h0M320.2 154.6h0M321.3 155.1h0M322.5 152.4h0M323.6 151.6h0M324.7 152.2h0M325.9 152.4h0M327.0 152.3h0M328.1 152.6h0M329.3 155.0h0M330.4 153.6h0M331.5 154.4h0M332.7 155.9h0M333.8 155.9h0M334.9 154.7h0M336.1 154.8h0M337.2 152.8h0M338.3 151.5h0M339.4 153.9h0M340.6 151.6h0M341.7 151.3h0M342.8 151.5h0M344.0 154.2h0M345.1 154.9h0M346.2 154.8h0M347.4 154.9h0M348.5 154.9h0M349.6 152.9h0M350.8 151.6h0M351.9 151.9h0M353.0 153.6h0M354.1 152.8h0M355.3 152.1h0M356.4 171.3h0M357.5 155.3h0M358.7 152.7h0M359.8 188.5h0M360.9 151.5h0M362.1 152.1h0M363.2 172.4h0M364.3 152.2h0M365.5 153.4h0M366.6 154.8h0M367.7 152.0h0M368.9 162.4h0M370.0 154.1h0M371.1 151.9h0M372.2 151.1h0M373.4 153.7h0M374.5 153.7h0M375.6 151.1h0M376.8 152.2h0M377.9 154.7h0M379.0 154.9h0M380.2 154.8h0M381.3 151.3h0M382.4 151.7h0M383.6 154.8h0M384.7 151.6h0M385.8 150.9h0M387.0 152.4h0M388.1 153.8h0M389.2 152.8h0M390.3 154.8h0M391.5 155.3h0M392.6 150.8h0M393.7 152.3h0M394.9 152.9h0M396.0 151.0h0M397.1 153.3h0M398.3 151.2h0M399.4 151.4h0M400.5 154.3h0M401.7 154.1h0M402.8 153.9h0M403.9 154.1h0M405.1 152.5h0M406.2 182.9h0M407.3 154.1h0M408.4 153.3h0M409.6 154.7h0M410.7 151.0h0M411.8 153.6h0M413.0 153.1h0M414.1 152.6h0M415.2 151.1h0M416.4 153.3h0M417.5 151.0h0M418.6 152.9h0M419.8 152.8h0M420.9 152.8h0M422.0 155.2h0M423.2 153.2h0M424.3 154.4h0M425.4 155.2h0M426.5 151.6h0M427.7 154.5h0M428.8 153.1h0M429.9 151.9h0M431.1 152.7h0M432.2 153.8h0M433.3 152.9h0M434.5 152.7h0M435.6 151.6h0M436.7 154.8h0M437.9 152.7h0M439.0 154.1h0M440.1 154.0h0M441.3 151.7h0M442.4 152.9h0M443.5 152.7h0M444.6 151.7h0M445.8 151.0h0M446.9 182.5h0M448.0 153.2h0M449.2 152.4h0M450.3 152.9h0M451.4 152.9h0M452.6 152.1h0M453.7 153.2h0M454.8 152.8h0M456.0 153.0h0M457.1 150.9h0M458.2 152.0h0M459.4 151.2h0M460.5 150.9h0M461.6 154.1h0M462.7 152.7h0M463.9 150.9h0M465.0 151.4h0M466.1 154.6h0M467.3 154.7h0M468.4 153.2h0M469.5 154.9h0M470.7 154.2h0M471.8 155.0h0M472.9 152.3h0M474.1 151.9h0M475.2 151.4h0M476.3 154.9h0M477.5 152.4h0M478.6 152.7h0M479.7 155.2h0M480.8 151.8h0M482.0 151.5h0M483.1 155.0h0M484.2 151.7h0M485.4 154.3h0M486.5 154.0h0M487.6 151.7h0M488.8 152.5h0M489.9 155.7h0M491.0 154.6h0M492.2 154.3h0M493.3 155.3h0M494.4 156.1h0M495.5 155.6h0M496.7 153.9h0M497.8 157.3h0M498.9 154.9h0M500.1 155.6h0M501.2 157.6h0M502.3 156.3h0M503.5 155.1h0M504.6 155.7h0M505.7 158.0h0M506.9 175.8h0M508.0 172.1h0M509.1 162.0h0M510.3 145.2h0M511.4 146.0h0M512.5 145.2h0M513.6 148.9h0M514.8 148.2h0M515.9 149.1h0M517.0 146.0h0M518.2 148.2h0M519.3 148.8h0M520.4 147.5h0M521.6 145.5h0M522.7 145.9h0M523.8 148.2h0M525.0 148.7h0M526.1 145.4h0M527.2 146.9h0M528.4 146.4h0M529.5 148.9h0M530.6 149.0h0M531.7 146.4h0M532.9 147.5h0M534.0 149.0h0M535.1 145.4h0M536.3 151.2h0M537.4 146.6h0M538.5 145.9h0M539.7 148.9h0M540.8 145.7h0M541.9 149.0h0M543.1 145.7h0M544.2 147.4h0M545.3 151.2h0M546.5 147.8h0M547.6 146.9h0M548.7 145.4h0M549.8 148.1h0M551.0 148.7h0M552.1 147.1h0M553.2 148.3h0M554.4 148.8h0M555.5 148.6h0M556.6 149.0h0M557.8 148.4h0M558.9 147.9h0M560.0 153.8h0M561.2 148.0h0M562.3 146.1h0M563.4 190.4h0M564.6 148.0h0M565.7 147.1h0M566.8 148.5h0M567.9 147.8h0M569.1 149.2h0M570.2 148.2h0M571.3 149.2h0M572.5 146.2h0M573.6 146.9h0M574.7 148.4h0M575.9 147.2h0M577.0 145.3h0M578.1 148.8h0M579.3 145.8h0M580.4 147.4h0M581.5 147.1h0M582.7 145.7h0M583.8 147.6h0M584.9 147.1h0M586.0 146.3h0M587.2 145.1h0M588.3 147.8h0M589.4 145.7h0M590.6 146.2h0M591.7 146.5h0M592.8 147.5h0M594.0 147.7h0M595.1 149.0h0M596.2 148.7h0M597.4 148.9h0M598.5 146.1h0M599.6 148.1h0M600.8 148.5h0M601.9 148.8h0M603.0 145.7h0M604.1 145.5h0M605.3 146.4h0M606.4 148.0h0M607.5 148.2h0M608.7 148.0h0M609.8 147.3h0M610.9 148.5h0M612.1 147.3h0M613.2 161.6h0M614.3 148.1h0M615.5 145.1h0M616.6 145.1h0M617.7 146.9h0M618.9 155.6h0M620.0 148.1h0M621.1 145.1h0M622.2 147.9h0M623.4 147.7h0M624.5 149.2h0M625.6 147.6h0M626.8 147.2h0M627.9 147.0h0M629.0 148.3h0M630.2 147.0h0M631.3 149.1h0M632.4 148.0h0M633.6 148.8h0M634.7 147.5h0M635.8 149.0h0M636.9 149.0h0M638.1 147.9h0M639.2 148.2h0M640.3 146.7h0M641.5 233.3h0M642.6 146.9h0M643.7 145.9h0M644.9 146.3h0M646.0 146.0h0M647.1 145.3h0M648.3 147.4h0M649.4 147.6h0M650.5 163.5h0M651.7 144.8h0M652.8 148.3h0M653.9 177.3h0M655.0 145.8h0M656.2 146.1h0M657.3 154.5h0M658.4 161.2h0M659.6 148.6h0M660.7 145.3h0M661.8 145.0h0M663.0 146.1h0M664.1 145.6h0M665.2 145.3h0M666.4 148.1h0M667.5 146.4h0M668.6 146.5h0M669.8 145.1h0M670.9 145.2h0M672.0 145.1h0M673.1 146.1h0M674.3 144.8h0M675.4 145.6h0M676.5 145.6h0M677.7 147.5h0M678.8 148.3h0M679.9 147.8h0M681.1 146.9h0M682.2 147.9h0M683.3 144.8h0M684.5 146.0h0M685.6 145.7h0M686.7 145.6h0M687.9 145.4h0M689.0 146.2h0M690.1 148.2h0M691.2 144.8h0M692.4 145.0h0M693.5 146.0h0M694.6 145.9h0M695.8 145.3h0M696.9 147.8h0M698.0 145.0h0M699.2 147.0h0M700.3 147.7h0M701.4 146.9h0M702.6 144.9h0M703.7 147.1h0M704.8 144.8h0M706.0 161.6h0M707.1 143.8h0M708.2 145.8h0M709.3 146.2h0M710.5 145.8h0M711.6 144.9h0M712.7 144.6h0M713.9 145.2h0M715.0 145.0h0M716.1 147.4h0M717.3 147.1h0M718.4 146.6h0M719.5 144.5h0M720.7 146.4h0M721.8 145.3h0M722.9 147.6h0M724.1 147.4h0M725.2 146.5h0M726.3 144.8h0M727.4 144.7h0M728.6 144.8h0M729.7 146.4h0M730.8 145.4h0M732.0 145.6h0M733.1 145.6h0M734.2 147.1h0M735.4 143.8h0M736.5 146.7h0M737.6 143.5h0M738.8 156.8h0M739.9 143.6h0M741.0 147.5h0M742.2 145.6h0M743.3 144.1h0M744.4 143.5h0M745.5 145.6h0M746.7 146.4h0M747.8 159.7h0M748.9 177.3h0M750.1 146.6h0M751.2 143.5h0M752.3 146.6h0M753.5 145.1h0M754.6 146.9h0M755.7 145.3h0M756.9 143.5h0M758.0 157.1h0M759.1 161.2h0M760.3 146.9h0M761.4 144.0h0M762.5 145.3h0M763.6 143.7h0M764.8 144.5h0M765.9 146.5h0M767.0 143.7h0M768.2 145.4h0M769.3 147.3h0M770.4 147.4h0M771.6 145.3h0M772.7 145.5h0M773.8 146.1h0M775.0 146.8h0M776.1 145.9h0M777.2 146.1h0M778.3 143.9h0M779.5 147.4h0M780.6 144.2h0M781.7 151.5h0M782.9 143.8h0M784.0 146.8h0M785.1 143.5h0M786.3 144.3h0M787.4 143.6h0M788.5 146.1h0M789.7 145.8h0M790.8 145.7h0M791.9 143.1h0M793.1 144.8h0M794.2 145.8h0M795.3 145.5h0M796.4 146.1h0M797.6 147.1h0M798.7 146.8h0M799.8 143.8h0M801.0 146.1h0M802.1 143.4h0M803.2 146.2h0M804.4 146.2h0M805.5 153.0h0M806.6 145.1h0M807.8 146.5h0M808.9 145.7h0M810.0 157.1h0M811.2 143.3h0M812.3 143.6h0M813.4 143.9h0M814.5 144.6h0M815.7 143.4h0M816.8 162.0h0M817.9 143.3h0M819.1 145.0h0M820.2 144.3h0M821.3 147.1h0M822.5 144.2h0M823.6 145.4h0M824.7 184.8h0M825.9 144.1h0M827.0 144.6h0M828.1 146.1h0M829.3 147.1h0M830.4 153.0h0M831.5 143.4h0M832.6 146.7h0M833.8 145.3h0M834.9 145.8h0M836.0 146.0h0M837.2 144.2h0M838.3 143.2h0M839.4 146.2h0M840.6 144.5h0M841.7 146.0h0M842.8 144.9h0M844.0 145.6h0M845.1 146.6h0M846.2 146.6h0M847.4 146.4h0M848.5 143.5h0M849.6 145.2h0M850.7 146.3h0M851.9 143.5h0M853.0 143.1h0M854.1 145.4h0M855.3 146.7h0M856.4 146.5h0M857.5 146.9h0M858.7 145.8h0M859.8 146.9h0M860.9 146.3h0M862.1 146.2h0M863.2 144.9h0M864.3 143.6h0M865.5 144.1h0M866.6 145.5h0M867.7 145.5h0M868.8 145.1h0M870.0 151.2h0M871.1 145.7h0M872.2 145.9h0M873.4 176.6h0M874.5 151.2h0M875.6 147.0h0M876.8 146.1h0M877.9 143.2h0M879.0 146.7h0M880.2 145.2h0M881.3 144.6h0M882.4 143.7h0M883.6 146.4h0M884.7 146.1h0M885.8 146.2h0M886.9 145.6h0M888.1 145.4h0M889.2 143.3h0M890.3 143.7h0M891.5 143.6h0M892.6 147.2h0M893.7 147.1h0M894.9 144.3h0M896.0 143.5h0M897.1 145.3h0M898.3 144.8h0M899.4 147.3h0M900.5 145.6h0M901.7 160.5h0M902.8 143.4h0M903.9 143.8h0M905.0 143.7h0M906.2 143.2h0M907.3 146.2h0M908.4 153.4h0M909.6 146.8h0M910.7 146.6h0M911.8 160.1h0M942.4 145.1h0M943.5 144.4h0M944.6 143.3h0M945.8 144.2h0" stroke="#ffa6a6" stroke-width="6.1" stroke-linecap="round" fill="none"/>
<polyline points="124.5,224.4 125.6,191.6 126.8,188.7 127.9,192.4 129.0,195.5 130.2,200.0 131.3,202.1 132.4,199.9 133.6,194.4 134.7,191.6 135.8,189.7 137.0,193.1 138.1,196.2 139.2,198.7 140.4,202.3 141.5,200.2 142.6,196.3 143.7,191.9 144.9,189.1 146.0,192.5 147.1,196.3 148.3,198.8 149.4,203.8 150.5,199.8 151.7,195.4 152.8,212.8 153.9,188.2 155.1,192.0 156.2,186.3 157.3,182.5 158.5,192.9 159.6,208.3 160.7,196.2 161.8,198.0 163.0,198.9 164.1,195.5 165.2,195.2 166.4,195.7 167.5,196.0 168.6,195.1 169.8,195.5 170.9,197.3 172.0,198.9 173.2,196.5 174.3,194.5 175.4,196.0 176.6,196.0 177.7,195.7 178.8,196.4 179.9,196.4 181.1,199.1 182.2,196.0 183.3,195.1 184.5,195.0 185.6,195.4 186.7,193.5 187.9,196.8 189.0,195.9 190.1,199.0 191.3,198.1 192.4,195.0 193.5,195.8 194.7,192.7 195.8,195.2 196.9,197.2 198.0,198.0 199.2,198.3 200.3,196.5 201.4,194.4 202.6,196.3 203.7,194.7 204.8,196.2 206.0,194.4 207.1,198.3 208.2,199.6 209.4,198.7 210.5,196.4 211.6,193.6 212.7,192.9 213.9,194.3 215.0,194.3 216.1,195.5 217.3,198.7 218.4,198.2 219.5,194.4 220.7,194.2 221.8,196.0 222.9,194.6 224.1,196.5 225.2,197.5 226.3,198.6 227.5,198.3 228.6,197.8 229.7,195.8 230.8,194.8 232.0,193.5 233.1,197.4 234.2,195.3 235.4,199.1 236.5,197.6 237.6,209.5 238.8,205.3 239.9,207.6 241.0,217.7 242.2,210.9 243.3,213.2 244.4,212.9 245.6,212.2 246.7,209.1 247.8,210.5 248.9,209.1 250.1,208.3 251.2,212.2 252.3,212.0 253.5,211.7 254.6,210.9 255.7,216.5 256.9,211.1 258.0,210.3 259.1,211.1 260.3,209.2 261.4,212.5 262.5,212.0 263.7,210.4 264.8,211.1 265.9,210.3 267.0,207.1 268.2,209.2 269.3,211.4 270.4,210.9 271.6,213.4 272.7,212.5 273.8,212.2 275.0,208.6 276.1,207.3 277.2,209.2 278.4,209.1 279.5,213.3 280.6,213.7 281.8,211.9 282.9,209.0 284.0,208.0 285.1,209.1 286.3,210.4 287.4,210.9 288.5,211.7 289.7,211.4 290.8,212.8 291.9,209.5 293.1,208.7 294.2,207.6 295.3,208.7 296.5,210.3 297.6,212.2 298.7,213.4 299.9,212.2 301.0,209.3 302.1,211.4 303.2,210.0 304.4,208.5 305.5,211.8 306.6,213.6 307.8,214.9 308.9,211.5 310.0,211.3 311.2,207.3 312.3,206.8 313.4,207.3 314.6,211.7 315.7,213.7 316.8,215.1 318.0,212.1 319.1,209.5 320.2,209.3 321.3,209.1 322.5,209.5 323.6,210.1 324.7,211.4 325.9,218.0 327.0,211.3 328.1,208.9 329.3,207.9 330.4,208.9 331.5,207.2 332.7,211.5 333.8,212.1 334.9,215.1 336.1,211.6 337.2,211.7 338.3,209.4 339.4,207.7 340.6,210.0 341.7,208.8 342.8,212.4 344.0,216.0 345.1,213.5 346.2,208.1 347.4,207.9 348.5,207.1 349.6,206.7 350.8,209.8 351.9,210.8 353.0,217.7 354.1,213.5 355.3,208.8 356.4,222.5 357.5,203.8 358.7,205.8 359.8,241.6 360.9,217.3 362.1,218.6 363.2,224.4 364.3,211.1 365.5,219.1 366.6,206.3 367.7,208.7 368.9,215.4 370.0,211.5 371.1,216.7 372.2,212.0 373.4,210.7 374.5,205.3 375.6,204.6 376.8,208.3 377.9,209.2 379.0,211.6 380.2,218.9 381.3,213.5 382.4,209.6 383.6,208.2 384.7,205.0 385.8,208.9 387.0,211.8 388.1,214.7 389.2,216.6 390.3,213.2 391.5,211.4 392.6,209.1 393.7,205.2 394.9,206.4 396.0,211.8 397.1,214.4 398.3,218.4 399.4,212.6 400.5,209.9 401.7,208.9 402.8,206.2 403.9,207.7 405.1,210.2 406.2,236.3 407.3,216.5 408.4,215.7 409.6,211.6 410.7,206.1 411.8,204.8 413.0,208.2 414.1,211.3 415.2,211.6 416.4,217.9 417.5,213.6 418.6,210.7 419.8,207.3 420.9,202.8 422.0,205.0 423.2,211.0 424.3,215.0 425.4,216.1 426.5,215.2 427.7,212.3 428.8,205.1 429.9,204.7 431.1,205.8 432.2,210.8 433.3,195.1 434.5,201.2 435.6,196.1 436.7,189.6 437.9,196.7 439.0,196.0 440.1,194.1 441.3,199.7 442.4,194.5 443.5,197.1 444.6,191.9 445.8,196.4 446.9,222.5 448.0,199.3 449.2,214.7 450.3,208.0 451.4,209.3 452.6,209.9 453.7,212.1 454.8,207.9 456.0,207.5 457.1,205.7 458.2,208.8 459.4,209.9 460.5,210.5 461.6,210.5 462.7,212.6 463.9,209.1 465.0,206.2 466.1,204.3 467.3,209.2 468.4,211.2 469.5,209.2 470.7,210.9 471.8,211.6 472.9,211.7 474.1,206.3 475.2,207.5 476.3,206.7 477.5,209.7 478.6,210.4 479.7,215.2 480.8,210.9 482.0,211.6 483.1,209.3 484.2,206.1 485.4,207.7 486.5,212.3 487.6,213.8 488.8,214.8 489.9,212.8 491.0,211.5 492.2,211.2 493.3,209.5 494.4,208.8 495.5,209.7 496.7,215.2 497.8,214.7 498.9,212.3 500.1,213.7 501.2,208.7 502.3,210.7 503.5,210.0 504.6,211.9 505.7,213.3 506.9,210.9 508.0,225.5 509.1,220.3 510.3,216.2 511.4,212.0 512.5,210.6 513.6,209.1 514.8,207.6 515.9,205.0 517.0,202.7 518.2,203.5 519.3,205.0 520.4,206.1 521.6,207.2 522.7,208.7 523.8,210.9 525.0,218.0 526.1,220.5 527.2,219.1 528.4,216.6 529.5,216.0 530.6,217.5 531.7,220.7 532.9,220.2 534.0,222.5 535.1,221.8 536.3,217.9 537.4,216.1 538.5,215.9 539.7,218.4 540.8,219.1 541.9,222.1 543.1,223.8 544.2,221.1 545.3,220.3 546.5,217.3 547.6,215.7 548.7,218.9 549.8,218.5 551.0,222.2 552.1,221.7 553.2,219.8 554.4,218.8 555.5,218.7 556.6,215.8 557.8,228.1 558.9,219.4 560.0,219.0 561.2,223.8 562.3,219.5 563.4,255.4 564.6,215.4 565.7,215.0 566.8,216.2 567.9,220.1 569.1,218.9 570.2,222.5 571.3,219.2 572.5,217.3 573.6,218.3 574.7,214.8 575.9,215.8 577.0,220.5 578.1,221.2 579.3,221.6 580.4,222.1 581.5,217.4 582.7,217.9 583.8,214.7 584.9,218.6 586.0,219.0 587.2,219.2 588.3,223.6 589.4,221.7 590.6,218.8 591.7,217.8 592.8,217.4 594.0,218.4 595.1,220.2 596.2,219.1 597.4,221.9 598.5,219.4 599.6,220.0 600.8,216.1 601.9,217.2 603.0,217.2 604.1,218.5 605.3,221.2 606.4,221.2 607.5,220.6 608.7,218.5 609.8,215.8 610.9,217.2 612.1,215.5 613.2,227.4 614.3,220.2 615.5,222.9 616.6,219.8 617.7,219.7 618.9,240.8 620.0,214.0 621.1,217.0 622.2,219.5 623.4,219.7 624.5,222.7 625.6,222.0 626.8,217.9 627.9,218.7 629.0,214.6 630.2,218.2 631.3,218.5 632.4,218.9 633.6,222.2 634.7,220.2 635.8,219.5 636.9,218.9 638.1,217.5 639.2,218.6 640.3,218.8 641.5,282.3 642.6,224.9 643.7,222.0 644.9,217.9 646.0,216.9 647.1,214.5 648.3,216.0 649.4,220.1 650.5,234.5 651.7,225.9 652.8,222.4 653.9,246.4 655.0,217.0 656.2,214.2 657.3,217.0 658.4,230.7 659.6,221.6 660.7,224.6 661.8,222.7 663.0,218.5 664.1,216.1 665.2,214.7 666.4,215.4 667.5,219.6 668.6,222.6 669.8,225.7 670.9,221.7 672.0,218.0 673.1,215.5 674.3,214.1 675.4,216.9 676.5,220.2 677.7,221.4 678.8,224.6 679.9,222.4 681.1,218.5 682.2,216.2 683.3,212.9 684.5,215.8 685.6,219.6 686.7,220.9 687.9,225.8 689.0,222.0 690.1,219.0 691.2,216.7 692.4,214.9 693.5,215.7 694.6,220.2 695.8,221.7 696.9,223.8 698.0,222.8 699.2,219.5 700.3,215.8 701.4,213.9 702.6,216.0 703.7,218.4 704.8,222.5 706.0,235.6 707.1,222.5 708.2,219.2 709.3,217.1 710.5,213.0 711.6,215.7 712.7,218.6 713.9,222.9 715.0,224.0 716.1,221.5 717.3,218.9 718.4,215.5 719.5,214.0 720.7,217.0 721.8,219.9 722.9,222.4 724.1,225.8 725.2,222.4 726.3,218.2 727.4,215.6 728.6,213.1 729.7,215.9 730.8,219.6 732.0,221.7 733.1,224.9 734.2,221.4 735.4,218.7 736.5,216.6 737.6,213.6 738.8,215.3 739.9,219.7 741.0,220.9 742.2,225.8 743.3,222.6 744.4,219.4 745.5,215.5 746.7,212.9 747.8,230.7 748.9,252.0 750.1,221.2 751.2,225.1 752.3,221.2 753.5,219.2 754.6,216.7 755.7,213.0 756.9,216.1 758.0,218.6 759.1,237.8 760.3,224.4 761.4,221.0 762.5,218.9 763.6,215.3 764.8,213.5 765.9,215.6 767.0,219.2 768.2,221.3 769.3,224.6 770.4,221.7 771.6,219.3 772.7,215.7 773.8,215.7 775.0,214.9 776.1,219.7 777.2,222.4 778.3,224.6 779.5,219.6 780.6,218.8 781.7,217.3 782.9,215.9 784.0,217.8 785.1,217.9 786.3,220.3 787.4,222.6 788.5,220.2 789.7,219.8 790.8,215.8 791.9,214.7 793.1,215.2 794.2,217.5 795.3,219.5 796.4,224.7 797.6,219.8 798.7,216.9 799.8,214.6 801.0,215.6 802.1,217.3 803.2,219.9 804.4,222.4 805.5,222.1 806.6,220.0 807.8,217.9 808.9,215.0 810.0,236.0 811.2,215.9 812.3,219.3 813.4,222.1 814.5,224.6 815.7,220.1 816.8,204.9 817.9,202.1 819.1,199.9 820.2,203.1 821.3,205.1 822.5,207.5 823.6,209.3 824.7,238.2 825.9,204.6 827.0,202.1 828.1,198.7 829.3,202.0 830.4,215.4 831.5,206.2 832.6,209.5 833.8,208.3 834.9,204.5 836.0,201.9 837.2,199.1 838.3,202.3 839.4,204.1 840.6,206.9 841.7,210.4 842.8,206.5 844.0,205.2 845.1,201.0 846.2,200.5 847.4,203.1 848.5,205.2 849.6,206.4 850.7,208.7 851.9,208.4 853.0,204.3 854.1,201.8 855.3,199.1 856.4,202.7 857.5,204.5 858.7,207.4 859.8,209.1 860.9,207.8 862.1,203.3 863.2,202.2 864.3,200.4 865.5,201.5 866.6,204.5 867.7,207.9 868.8,209.5 870.0,208.2 871.1,203.6 872.2,201.3 873.4,239.3 874.5,214.7 875.6,203.9 876.8,206.7 877.9,210.1 879.0,207.5 880.2,204.5 881.3,200.9 882.4,200.6 883.6,201.1 884.7,205.6 885.8,207.7 886.9,210.3 888.1,206.4 889.2,204.3 890.3,202.0 891.5,198.9 892.6,202.6 893.7,204.6 894.9,207.0 896.0,209.2 897.1,206.7 898.3,203.9 899.4,202.1 900.5,200.1 901.7,220.3 902.8,205.3 903.9,206.3 905.0,209.4 906.2,206.7 907.3,205.0 908.4,215.8 909.6,199.9 910.7,201.4 911.8,210.9 942.4,204.6 943.5,207.2 944.6,205.7 945.8,205.3" stroke="#e08080" stroke-width="1.0" stroke-opacity="0.07" fill="none"/>
<path d="M124.5 224.4h0M125.6 191.6h0M126.8 188.7h0M127.9 192.4h0M129.0 195.5h0M130.2 200.0h0M131.3 202.1h0M132.4 199.9h0M133.6 194.4h0M134.7 191.6h0M135.8 189.7h0M137.0 193.1h0M138.1 196.2h0M139.2 198.7h0M140.4 202.3h0M141.5 200.2h0M142.6 196.3h0M143.7 191.9h0M144.9 189.1h0M146.0 192.5h0M147.1 196.3h0M148.3 198.8h0M149.4 203.8h0M150.5 199.8h0M151.7 195.4h0M152.8 212.8h0M153.9 188.2h0M155.1 192.0h0M156.2 186.3h0M157.3 182.5h0M158.5 192.9h0M159.6 208.3h0M160.7 196.2h0M161.8 198.0h0M163.0 198.9h0M164.1 195.5h0M165.2 195.2h0M166.4 195.7h0M167.5 196.0h0M168.6 195.1h0M169.8 195.5h0M170.9 197.3h0M172.0 198.9h0M173.2 196.5h0M174.3 194.5h0M175.4 196.0h0M176.6 196.0h0M177.7 195.7h0M178.8 196.4h0M179.9 196.4h0M181.1 199.1h0M182.2 196.0h0M183.3 195.1h0M184.5 195.0h0M185.6 195.4h0M186.7 193.5h0M187.9 196.8h0M189.0 195.9h0M190.1 199.0h0M191.3 198.1h0M192.4 195.0h0M193.5 195.8h0M194.7 192.7h0M195.8 195.2h0M196.9 197.2h0M198.0 198.0h0M199.2 198.3h0M200.3 196.5h0M201.4 194.4h0M202.6 196.3h0M203.7 194.7h0M204.8 196.2h0M206.0 194.4h0M207.1 198.3h0M208.2 199.6h0M209.4 198.7h0M210.5 196.4h0M211.6 193.6h0M212.7 192.9h0M213.9 194.3h0M215.0 194.3h0M216.1 195.5h0M217.3 198.7h0M218.4 198.2h0M219.5 194.4h0M220.7 194.2h0M221.8 196.0h0M222.9 194.6h0M224.1 196.5h0M225.2 197.5h0M226.3 198.6h0M227.5 198.3h0M228.6 197.8h0M229.7 195.8h0M230.8 194.8h0M232.0 193.5h0M233.1 197.4h0M234.2 195.3h0M235.4 199.1h0M236.5 197.6h0M237.6 209.5h0M238.8 205.3h0M239.9 207.6h0M241.0 217.7h0M242.2 210.9h0M243.3 213.2h0M244.4 212.9h0M245.6 212.2h0M246.7 209.1h0M247.8 210.5h0M248.9 209.1h0M250.1 208.3h0M251.2 212.2h0M252.3 212.0h0M253.5 211.7h0M254.6 210.9h0M255.7 216.5h0M256.9 211.1h0M258.0 210.3h0M259.1 211.1h0M260.3 209.2h0M261.4 212.5h0M262.5 212.0h0M263.7 210.4h0M264.8 211.1h0M265.9 210.3h0M267.0 207.1h0M268.2 209.2h0M269.3 211.4h0M270.4 210.9h0M271.6 213.4h0M272.7 212.5h0M273.8 212.2h0M275.0 208.6h0M276.1 207.3h0M277.2 209.2h0M278.4 209.1h0M279.5 213.3h0M280.6 213.7h0M281.8 211.9h0M282.9 209.0h0M284.0 208.0h0M285.1 209.1h0M286.3 210.4h0M287.4 210.9h0M288.5 211.7h0M289.7 211.4h0M290.8 212.8h0M291.9 209.5h0M293.1 208.7h0M294.2 207.6h0M295.3 208.7h0M296.5 210.3h0M297.6 212.2h0M298.7 213.4h0M299.9 212.2h0M301.0 209.3h0M302.1 211.4h0M303.2 210.0h0M304.4 208.5h0M305.5 211.8h0M306.6 213.6h0M307.8 214.9h0M308.9 211.5h0M310.0 211.3h0M311.2 207.3h0M312.3 206.8h0M313.4 207.3h0M314.6 211.7h0M315.7 213.7h0M316.8 215.1h0M318.0 212.1h0M319.1 209.5h0M320.2 209.3h0M321.3 209.1h0M322.5 209.5h0M323.6 210.1h0M324.7 211.4h0M325.9 218.0h0M327.0 211.3h0M328.1 208.9h0M329.3 207.9h0M330.4 208.9h0M331.5 207.2h0M332.7 211.5h0M333.8 212.1h0M334.9 215.1h0M336.1 211.6h0M337.2 211.7h0M338.3 209.4h0M339.4 207.7h0M340.6 210.0h0M341.7 208.8h0M342.8 212.4h0M344.0 216.0h0M345.1 213.5h0M346.2 208.1h0M347.4 207.9h0M348.5 207.1h0M349.6 206.7h0M350.8 209.8h0M351.9 210.8h0M353.0 217.7h0M354.1 213.5h0M355.3 208.8h0M356.4 222.5h0M357.5 203.8h0M358.7 205.8h0M359.8 241.6h0M360.9 217.3h0M362.1 218.6h0M363.2 224.4h0M364.3 211.1h0M365.5 219.1h0M366.6 206.3h0M367.7 208.7h0M368.9 215.4h0M370.0 211.5h0M371.1 216.7h0M372.2 212.0h0M373.4 210.7h0M374.5 205.3h0M375.6 204.6h0M376.8 208.3h0M377.9 209.2h0M379.0 211.6h0M380.2 218.9h0M381.3 213.5h0M382.4 209.6h0M383.6 208.2h0M384.7 205.0h0M385.8 208.9h0M387.0 211.8h0M388.1 214.7h0M389.2 216.6h0M390.3 213.2h0M391.5 211.4h0M392.6 209.1h0M393.7 205.2h0M394.9 206.4h0M396.0 211.8h0M397.1 214.4h0M398.3 218.4h0M399.4 212.6h0M400.5 209.9h0M401.7 208.9h0M402.8 206.2h0M403.9 207.7h0M405.1 210.2h0M406.2 236.3h0M407.3 216.5h0M408.4 215.7h0M409.6 211.6h0M410.7 206.1h0M411.8 204.8h0M413.0 208.2h0M414.1 211.3h0M415.2 211.6h0M416.4 217.9h0M417.5 213.6h0M418.6 210.7h0M419.8 207.3h0M420.9 202.8h0M422.0 205.0h0M423.2 211.0h0M424.3 215.0h0M425.4 216.1h0M426.5 215.2h0M427.7 212.3h0M428.8 205.1h0M429.9 204.7h0M431.1 205.8h0M432.2 210.8h0M433.3 195.1h0M434.5 201.2h0M435.6 196.1h0M436.7 189.6h0M437.9 196.7h0M439.0 196.0h0M440.1 194.1h0M441.3 199.7h0M442.4 194.5h0M443.5 197.1h0M444.6 191.9h0M445.8 196.4h0M446.9 222.5h0M448.0 199.3h0M449.2 214.7h0M450.3 208.0h0M451.4 209.3h0M452.6 209.9h0M453.7 212.1h0M454.8 207.9h0M456.0 207.5h0M457.1 205.7h0M458.2 208.8h0M459.4 209.9h0M460.5 210.5h0M461.6 210.5h0M462.7 212.6h0M463.9 209.1h0M465.0 206.2h0M466.1 204.3h0M467.3 209.2h0M468.4 211.2h0M469.5 209.2h0M470.7 210.9h0M471.8 211.6h0M472.9 211.7h0M474.1 206.3h0M475.2 207.5h0M476.3 206.7h0M477.5 209.7h0M478.6 210.4h0M479.7 215.2h0M480.8 210.9h0M482.0 211.6h0M483.1 209.3h0M484.2 206.1h0M485.4 207.7h0M486.5 212.3h0M487.6 213.8h0M488.8 214.8h0M489.9 212.8h0M491.0 211.5h0M492.2 211.2h0M493.3 209.5h0M494.4 208.8h0M495.5 209.7h0M496.7 215.2h0M497.8 214.7h0M498.9 212.3h0M500.1 213.7h0M501.2 208.7h0M502.3 210.7h0M503.5 210.0h0M504.6 211.9h0M505.7 213.3h0M506.9 210.9h0M508.0 225.5h0M509.1 220.3h0M510.3 216.2h0M511.4 212.0h0M512.5 210.6h0M513.6 209.1h0M514.8 207.6h0M515.9 205.0h0M517.0 202.7h0M518.2 203.5h0M519.3 205.0h0M520.4 206.1h0M521.6 207.2h0M522.7 208.7h0M523.8 210.9h0M525.0 218.0h0M526.1 220.5h0M527.2 219.1h0M528.4 216.6h0M529.5 216.0h0M530.6 217.5h0M531.7 220.7h0M532.9 220.2h0M534.0 222.5h0M535.1 221.8h0M536.3 217.9h0M537.4 216.1h0M538.5 215.9h0M539.7 218.4h0M540.8 219.1h0M541.9 222.1h0M543.1 223.8h0M544.2 221.1h0M545.3 220.3h0M546.5 217.3h0M547.6 215.7h0M548.7 218.9h0M549.8 218.5h0M551.0 222.2h0M552.1 221.7h0M553.2 219.8h0M554.4 218.8h0M555.5 218.7h0M556.6 215.8h0M557.8 228.1h0M558.9 219.4h0M560.0 219.0h0M561.2 223.8h0M562.3 219.5h0M563.4 255.4h0M564.6 215.4h0M565.7 215.0h0M566.8 216.2h0M567.9 220.1h0M569.1 218.9h0M570.2 222.5h0M571.3 219.2h0M572.5 217.3h0M573.6 218.3h0M574.7 214.8h0M575.9 215.8h0M577.0 220.5h0M578.1 221.2h0M579.3 221.6h0M580.4 222.1h0M581.5 217.4h0M582.7 217.9h0M583.8 214.7h0M584.9 218.6h0M586.0 219.0h0M587.2 219.2h0M588.3 223.6h0M589.4 221.7h0M590.6 218.8h0M591.7 217.8h0M592.8 217.4h0M594.0 218.4h0M595.1 220.2h0M596.2 219.1h0M597.4 221.9h0M598.5 219.4h0M599.6 220.0h0M600.8 216.1h0M601.9 217.2h0M603.0 217.2h0M604.1 218.5h0M605.3 221.2h0M606.4 221.2h0M607.5 220.6h0M608.7 218.5h0M609.8 215.8h0M610.9 217.2h0M612.1 215.5h0M613.2 227.4h0M614.3 220.2h0M615.5 222.9h0M616.6 219.8h0M617.7 219.7h0M618.9 240.8h0M620.0 214.0h0M621.1 217.0h0M622.2 219.5h0M623.4 219.7h0M624.5 222.7h0M625.6 222.0h0M626.8 217.9h0M627.9 218.7h0M629.0 214.6h0M630.2 218.2h0M631.3 218.5h0M632.4 218.9h0M633.6 222.2h0M634.7 220.2h0M635.8 219.5h0M636.9 218.9h0M638.1 217.5h0M639.2 218.6h0M640.3 218.8h0M641.5 282.3h0M642.6 224.9h0M643.7 222.0h0M644.9 217.9h0M646.0 216.9h0M647.1 214.5h0M648.3 216.0h0M649.4 220.1h0M650.5 234.5h0M651.7 225.9h0M652.8 222.4h0M653.9 246.4h0M655.0 217.0h0M656.2 214.2h0M657.3 217.0h0M658.4 230.7h0M659.6 221.6h0M660.7 224.6h0M661.8 222.7h0M663.0 218.5h0M664.1 216.1h0M665.2 214.7h0M666.4 215.4h0M667.5 219.6h0M668.6 222.6h0M669.8 225.7h0M670.9 221.7h0M672.0 218.0h0M673.1 215.5h0M674.3 214.1h0M675.4 216.9h0M676.5 220.2h0M677.7 221.4h0M678.8 224.6h0M679.9 222.4h0M681.1 218.5h0M682.2 216.2h0M683.3 212.9h0M684.5 215.8h0M685.6 219.6h0M686.7 220.9h0M687.9 225.8h0M689.0 222.0h0M690.1 219.0h0M691.2 216.7h0M692.4 214.9h0M693.5 215.7h0M694.6 220.2h0M695.8 221.7h0M696.9 223.8h0M698.0 222.8h0M699.2 219.5h0M700.3 215.8h0M701.4 213.9h0M702.6 216.0h0M703.7 218.4h0M704.8 222.5h0M706.0 235.6h0M707.1 222.5h0M708.2 219.2h0M709.3 217.1h0M710.5 213.0h0M711.6 215.7h0M712.7 218.6h0M713.9 222.9h0M715.0 224.0h0M716.1 221.5h0M717.3 218.9h0M718.4 215.5h0M719.5 214.0h0M720.7 217.0h0M721.8 219.9h0M722.9 222.4h0M724.1 225.8h0M725.2 222.4h0M726.3 218.2h0M727.4 215.6h0M728.6 213.1h0M729.7 215.9h0M730.8 219.6h0M732.0 221.7h0M733.1 224.9h0M734.2 221.4h0M735.4 218.7h0M736.5 216.6h0M737.6 213.6h0M738.8 215.3h0M739.9 219.7h0M741.0 220.9h0M742.2 225.8h0M743.3 222.6h0M744.4 219.4h0M745.5 215.5h0M746.7 212.9h0M747.8 230.7h0M748.9 252.0h0M750.1 221.2h0M751.2 225.1h0M752.3 221.2h0M753.5 219.2h0M754.6 216.7h0M755.7 213.0h0M756.9 216.1h0M758.0 218.6h0M759.1 237.8h0M760.3 224.4h0M761.4 221.0h0M762.5 218.9h0M763.6 215.3h0M764.8 213.5h0M765.9 215.6h0M767.0 219.2h0M768.2 221.3h0M769.3 224.6h0M770.4 221.7h0M771.6 219.3h0M772.7 215.7h0M773.8 215.7h0M775.0 214.9h0M776.1 219.7h0M777.2 222.4h0M778.3 224.6h0M779.5 219.6h0M780.6 218.8h0M781.7 217.3h0M782.9 215.9h0M784.0 217.8h0M785.1 217.9h0M786.3 220.3h0M787.4 222.6h0M788.5 220.2h0M789.7 219.8h0M790.8 215.8h0M791.9 214.7h0M793.1 215.2h0M794.2 217.5h0M795.3 219.5h0M796.4 224.7h0M797.6 219.8h0M798.7 216.9h0M799.8 214.6h0M801.0 215.6h0M802.1 217.3h0M803.2 219.9h0M804.4 222.4h0M805.5 222.1h0M806.6 220.0h0M807.8 217.9h0M808.9 215.0h0M810.0 236.0h0M811.2 215.9h0M812.3 219.3h0M813.4 222.1h0M814.5 224.6h0M815.7 220.1h0M816.8 204.9h0M817.9 202.1h0M819.1 199.9h0M820.2 203.1h0M821.3 205.1h0M822.5 207.5h0M823.6 209.3h0M824.7 238.2h0M825.9 204.6h0M827.0 202.1h0M828.1 198.7h0M829.3 202.0h0M830.4 215.4h0M831.5 206.2h0M832.6 209.5h0M833.8 208.3h0M834.9 204.5h0M836.0 201.9h0M837.2 199.1h0M838.3 202.3h0M839.4 204.1h0M840.6 206.9h0M841.7 210.4h0M842.8 206.5h0M844.0 205.2h0M845.1 201.0h0M846.2 200.5h0M847.4 203.1h0M848.5 205.2h0M849.6 206.4h0M850.7 208.7h0M851.9 208.4h0M853.0 204.3h0M854.1 201.8h0M855.3 199.1h0M856.4 202.7h0M857.5 204.5h0M858.7 207.4h0M859.8 209.1h0M860.9 207.8h0M862.1 203.3h0M863.2 202.2h0M864.3 200.4h0M865.5 201.5h0M866.6 204.5h0M867.7 207.9h0M868.8 209.5h0M870.0 208.2h0M871.1 203.6h0M872.2 201.3h0M873.4 239.3h0M874.5 214.7h0M875.6 203.9h0M876.8 206.7h0M877.9 210.1h0M879.0 207.5h0M880.2 204.5h0M881.3 200.9h0M882.4 200.6h0M883.6 201.1h0M884.7 205.6h0M885.8 207.7h0M886.9 210.3h0M888.1 206.4h0M889.2 204.3h0M890.3 202.0h0M891.5 198.9h0M892.6 202.6h0M893.7 204.6h0M894.9 207.0h0M896.0 209.2h0M897.1 206.7h0M898.3 203.9h0M899.4 202.1h0M900.5 200.1h0M901.7 220.3h0M902.8 205.3h0M903.9 206.3h0M905.0 209.4h0M906.2 206.7h0M907.3 205.0h0M908.4 215.8h0M909.6 199.9h0M910.7 201.4h0M911.8 210.9h0M942.4 204.6h0M943.5 207.2h0M944.6 205.7h0M945.8 205.3h0" stroke="#b30000" stroke-width="6.1" stroke-linecap="round" fill="none"/>
<path d="M124.5 118.6h0M125.6 118.6h0M126.8 118.6h0M127.9 118.6h0M129.0 118.6h0M130.2 118.6h0M131.3 118.6h0M132.4 118.6h0M133.6 118.6h0M134.7 118.6h0M135.8 118.6h0M137.0 118.6h0M138.1 118.6h0M139.2 118.6h0M140.4 118.6h0M141.5 118.6h0M142.6 118.6h0M143.7 118.6h0M144.9 118.6h0M146.0 118.6h0M147.1 118.6h0M148.3 118.6h0M149.4 118.6h0M150.5 118.6h0M151.7 118.6h0M152.8 118.6h0M153.9 118.6h0M155.1 118.6h0M156.2 118.6h0M157.3 118.6h0M158.5 118.6h0M159.6 118.6h0M160.7 118.6h0M161.8 118.6h0M163.0 118.6h0M164.1 118.6h0M165.2 118.6h0M166.4 118.6h0M167.5 118.6h0M168.6 118.6h0M169.8 118.6h0M170.9 118.6h0M172.0 118.6h0M173.2 118.6h0M174.3 118.6h0M175.4 118.6h0M176.6 118.6h0M177.7 118.6h0M178.8 118.6h0M179.9 118.6h0M181.1 118.6h0M182.2 118.6h0M183.3 118.6h0M184.5 118.6h0M185.6 118.6h0M186.7 118.6h0M187.9 118.6h0M189.0 118.6h0M190.1 118.6h0M191.3 118.6h0M192.4 118.6h0M193.5 118.6h0M194.7 118.6h0M195.8 118.6h0M196.9 118.6h0M198.0 118.6h0M199.2 118.6h0M200.3 118.6h0M201.4 118.6h0M202.6 118.6h0M203.7 118.6h0M204.8 118.6h0M206.0 118.6h0M207.1 118.6h0M208.2 118.6h0M209.4 118.6h0M210.5 118.6h0M211.6 118.6h0M212.7 118.6h0M213.9 118.6h0M215.0 118.6h0M216.1 118.6h0M217.3 118.6h0M218.4 118.6h0M219.5 118.6h0M220.7 118.6h0M221.8 118.6h0M222.9 118.6h0M224.1 118.6h0M225.2 118.6h0M226.3 118.6h0M227.5 118.6h0M228.6 118.6h0M229.7 118.6h0M230.8 118.6h0M232.0 118.6h0M233.1 118.6h0M234.2 118.6h0M235.4 118.6h0M236.5 118.6h0M237.6 118.6h0M238.8 118.6h0M239.9 118.6h0M241.0 118.6h0M242.2 118.6h0M243.3 118.6h0M244.4 118.6h0M245.6 118.6h0M246.7 118.6h0M247.8 118.6h0M248.9 118.6h0M250.1 118.6h0M251.2 118.6h0M252.3 118.6h0M253.5 118.6h0M254.6 118.6h0M255.7 118.6h0M256.9 118.6h0M258.0 118.6h0M259.1 118.6h0M260.3 118.6h0M261.4 118.6h0M262.5 118.6h0M263.7 118.6h0M264.8 118.6h0M265.9 118.6h0M267.0 118.6h0M268.2 118.6h0M269.3 118.6h0M270.4 118.6h0M271.6 118.6h0M272.7 118.6h0M273.8 118.6h0M275.0 118.6h0M276.1 118.6h0M277.2 118.6h0M278.4 118.6h0M279.5 118.6h0M280.6 118.6h0M281.8 118.6h0M282.9 118.6h0M284.0 118.6h0M285.1 118.6h0M286.3 118.6h0M287.4 118.6h0M288.5 118.6h0M289.7 118.6h0M290.8 118.6h0M291.9 118.6h0M293.1 118.6h0M294.2 118.6h0M295.3 118.6h0M296.5 118.6h0M297.6 118.6h0M298.7 118.6h0M299.9 118.6h0M301.0 118.6h0M302.1 118.6h0M303.2 118.6h0M304.4 118.6h0M305.5 118.6h0M306.6 118.6h0M307.8 118.6h0M308.9 118.6h0M310.0 118.6h0M311.2 118.6h0M312.3 118.6h0M313.4 118.6h0M314.6 118.6h0M315.7 118.6h0M316.8 118.6h0M318.0 118.6h0M319.1 118.6h0M320.2 118.6h0M321.3 118.6h0M322.5 118.6h0M323.6 118.6h0M324.7 118.6h0M325.9 118.6h0M327.0 118.6h0M328.1 118.6h0M329.3 118.6h0M330.4 118.6h0M331.5 118.6h0M332.7 118.6h0M333.8 118.6h0M334.9 118.6h0M336.1 118.6h0M337.2 118.6h0M338.3 118.6h0M339.4 118.6h0M340.6 118.6h0M341.7 118.6h0M342.8 118.6h0M344.0 118.6h0M345.1 118.6h0M346.2 118.6h0M347.4 118.6h0M348.5 118.6h0M349.6 118.6h0M350.8 118.6h0M351.9 118.6h0M353.0 118.6h0M354.1 118.6h0M355.3 118.6h0M356.4 118.6h0M357.5 118.6h0M358.7 118.6h0M359.8 118.6h0M360.9 118.6h0M362.1 118.6h0M363.2 118.6h0M364.3 118.6h0M365.5 118.6h0M366.6 118.6h0M367.7 118.6h0M368.9 118.6h0M370.0 118.6h0M371.1 118.6h0M372.2 118.6h0M373.4 118.6h0M374.5 118.6h0M375.6 118.6h0M376.8 118.6h0M377.9 118.6h0M379.0 118.6h0M380.2 118.6h0M381.3 118.6h0M382.4 118.6h0M383.6 118.6h0M384.7 118.6h0M385.8 118.6h0M387.0 118.6h0M388.1 118.6h0M389.2 118.6h0M390.3 118.6h0M391.5 118.6h0M392.6 118.6h0M393.7 118.6h0M394.9 118.6h0M396.0 118.6h0M397.1 118.6h0M398.3 118.6h0M399.4 118.6h0M400.5 118.6h0M401.7 118.6h0M402.8 118.6h0M403.9 118.6h0M405.1 118.6h0M406.2 118.6h0M407.3 118.6h0M408.4 118.6h0M409.6 118.6h0M410.7 118.6h0M411.8 118.6h0M413.0 118.6h0M414.1 118.6h0M415.2 118.6h0M416.4 118.6h0M417.5 118.6h0M418.6 118.6h0M419.8 118.6h0M420.9 118.6h0M422.0 118.6h0M423.2 118.6h0M424.3 118.6h0M425.4 118.6h0M426.5 118.6h0M427.7 118.6h0M428.8 118.6h0M429.9 118.6h0M431.1 118.6h0M432.2 118.6h0M433.3 118.6h0M434.5 118.6h0M435.6 118.6h0M436.7 118.6h0M437.9 118.6h0M439.0 118.6h0M440.1 118.6h0M441.3 118.6h0M442.4 118.6h0M443.5 118.6h0M444.6 118.6h0M445.8 118.6h0M446.9 118.6h0M448.0 118.6h0M449.2 118.6h0M450.3 118.6h0M451.4 118.6h0M452.6 118.6h0M453.7 118.6h0M454.8 118.6h0M456.0 118.6h0M457.1 118.6h0M458.2 118.6h0M459.4 118.6h0M460.5 118.6h0M461.6 118.6h0M462.7 118.6h0M463.9 118.6h0M465.0 118.6h0M466.1 118.6h0M467.3 118.6h0M468.4 118.6h0M469.5 118.6h0M470.7 118.6h0M471.8 118.6h0M472.9 118.6h0M474.1 118.6h0M475.2 118.6h0M476.3 118.6h0M477.5 118.6h0M478.6 118.6h0M479.7 118.6h0M480.8 118.6h0M482.0 118.6h0M483.1 118.6h0M484.2 118.6h0M485.4 118.6h0M486.5 118.6h0M487.6 118.6h0M488.8 118.6h0M489.9 118.6h0M491.0 118.6h0M492.2 118.6h0M493.3 118.6h0M494.4 118.6h0M495.5 118.6h0M496.7 118.6h0M497.8 118.6h0M498.9 118.6h0M500.1 118.6h0M501.2 118.6h0M502.3 118.6h0M503.5 118.6h0M504.6 118.6h0M505.7 118.6h0M506.9 118.6h0M508.0 118.6h0M509.1 118.6h0M510.3 118.6h0M511.4 118.6h0M512.5 118.6h0M513.6 118.6h0M514.8 118.6h0M515.9 118.6h0M517.0 118.6h0M518.2 118.6h0M519.3 118.6h0M520.4 118.6h0M521.6 118.6h0M522.7 118.6h0M523.8 118.6h0M525.0 118.6h0M526.1 118.6h0M527.2 118.6h0M528.4 118.6h0M529.5 118.6h0M530.6 118.6h0M531.7 118.6h0M532.9 118.6h0M534.0 118.6h0M535.1 118.6h0M536.3 118.6h0M537.4 118.6h0M538.5 118.6h0M539.7 118.6h0M540.8 118.6h0M541.9 118.6h0M543.1 118.6h0M544.2 118.6h0M545.3 118.6h0M546.5 118.6h0M547.6 118.6h0M548.7 118.6h0M549.8 118.6h0M551.0 118.6h0M552.1 118.6h0M553.2 118.6h0M554.4 118.6h0M555.5 118.6h0M556.6 118.6h0M557.8 118.6h0M558.9 118.6h0M560.0 118.6h0M561.2 118.6h0M562.3 118.6h0M563.4 118.6h0M564.6 118.6h0M565.7 118.6h0M566.8 118.6h0M567.9 118.6h0M569.1 118.6h0M570.2 118.6h0M571.3 118.6h0M572.5 118.6h0M573.6 118.6h0M574.7 118.6h0M575.9 118.6h0M577.0 118.6h0M578.1 118.6h0M579.3 118.6h0M580.4 118.6h0M581.5 118.6h0M582.7 118.6h0M583.8 118.6h0M584.9 118.6h0M586.0 118.6h0M587.2 118.6h0M588.3 118.6h0M589.4 118.6h0M590.6 118.6h0M591.7 118.6h0M592.8 118.6h0M594.0 118.6h0M595.1 118.6h0M596.2 118.6h0M597.4 118.6h0M598.5 118.6h0M599.6 118.6h0M600.8 118.6h0M601.9 118.6h0M603.0 118.6h0M604.1 118.6h0M605.3 118.6h0M606.4 118.6h0M607.5 118.6h0M608.7 118.6h0M609.8 118.6h0M610.9 118.6h0M612.1 118.6h0M613.2 118.6h0M614.3 118.6h0M615.5 118.6h0M616.6 118.6h0M617.7 118.6h0M618.9 118.6h0M620.0 118.6h0M621.1 118.6h0M622.2 118.6h0M623.4 118.6h0M624.5 118.6h0M625.6 118.6h0M626.8 118.6h0M627.9 118.6h0M629.0 118.6h0M630.2 118.6h0M631.3 118.6h0M632.4 118.6h0M633.6 118.6h0M634.7 118.6h0M635.8 118.6h0M636.9 118.6h0M638.1 118.6h0M639.2 118.6h0M640.3 118.6h0M641.5 118.6h0M642.6 118.6h0M643.7 118.6h0M644.9 118.6h0M646.0 118.6h0M647.1 118.6h0M648.3 118.6h0M649.4 118.6h0M650.5 118.6h0M651.7 118.6h0M652.8 118.6h0M653.9 118.6h0M655.0 118.6h0M656.2 118.6h0M657.3 118.6h0M658.4 118.6h0M659.6 118.6h0M660.7 118.6h0M661.8 118.6h0M663.0 118.6h0M664.1 118.6h0M665.2 118.6h0M666.4 118.6h0M667.5 118.6h0M668.6 118.6h0M669.8 118.6h0M670.9 118.6h0M672.0 118.6h0M673.1 118.6h0M674.3 118.6h0M675.4 118.6h0M676.5 118.6h0M677.7 118.6h0M678.8 118.6h0M679.9 118.6h0M681.1 118.6h0M682.2 118.6h0M683.3 118.6h0M684.5 118.6h0M685.6 118.6h0M686.7 118.6h0M687.9 118.6h0M689.0 118.6h0M690.1 118.6h0M691.2 118.6h0M692.4 118.6h0M693.5 118.6h0M694.6 118.6h0M695.8 118.6h0M696.9 118.6h0M698.0 118.6h0M699.2 118.6h0M700.3 118.6h0M701.4 118.6h0M702.6 118.6h0M703.7 118.6h0M704.8 118.6h0M706.0 118.6h0M707.1 118.6h0M708.2 118.6h0M709.3 118.6h0M710.5 118.6h0M711.6 118.6h0M712.7 118.6h0M713.9 118.6h0M715.0 118.6h0M716.1 118.6h0M717.3 118.6h0M718.4 118.6h0M719.5 118.6h0M720.7 118.6h0M721.8 118.6h0M722.9 118.6h0M724.1 118.6h0M725.2 118.6h0M726.3 118.6h0M727.4 118.6h0M728.6 118.6h0M729.7 118.6h0M730.8 118.6h0M732.0 118.6h0M733.1 118.6h0M734.2 118.6h0M735.4 118.6h0M736.5 118.6h0M737.6 118.6h0M738.8 118.6h0M739.9 118.6h0M741.0 118.6h0M742.2 118.6h0M743.3 118.6h0M744.4 118.6h0M745.5 118.6h0M746.7 118.6h0M747.8 118.6h0M748.9 118.6h0M750.1 118.6h0M751.2 118.6h0M752.3 118.6h0M753.5 118.6h0M754.6 118.6h0M755.7 118.6h0M756.9 118.6h0M758.0 118.6h0M759.1 118.6h0M760.3 118.6h0M761.4 118.6h0M762.5 118.6h0M763.6 118.6h0M764.8 118.6h0M765.9 118.6h0M767.0 118.6h0M768.2 118.6h0M769.3 118.6h0M770.4 118.6h0M771.6 118.6h0M772.7 118.6h0M773.8 118.6h0M775.0 118.6h0M776.1 118.6h0M777.2 118.6h0M778.3 118.6h0M779.5 118.6h0M780.6 118.6h0M781.7 118.6h0M782.9 118.6h0M784.0 118.6h0M785.1 118.6h0M786.3 118.6h0M787.4 118.6h0M788.5 118.6h0M789.7 118.6h0M790.8 118.6h0M791.9 118.6h0M793.1 118.6h0M794.2 118.6h0M795.3 118.6h0M796.4 118.6h0M797.6 118.6h0M798.7 118.6h0M799.8 118.6h0M801.0 118.6h0M802.1 118.6h0M803.2 118.6h0M804.4 118.6h0M805.5 118.6h0M806.6 118.6h0M807.8 118.6h0M808.9 118.6h0M810.0 118.6h0M811.2 118.6h0M812.3 118.6h0M813.4 118.6h0M814.5 118.6h0M815.7 118.6h0M816.8 118.6h0M817.9 118.6h0M819.1 118.6h0M820.2 118.6h0M821.3 118.6h0M822.5 118.6h0M823.6 118.6h0M824.7 118.6h0M825.9 118.6h0M827.0 118.6h0M828.1 118.6h0M829.3 118.6h0M830.4 118.6h0M831.5 118.6h0M832.6 118.6h0M833.8 118.6h0M834.9 118.6h0M836.0 118.6h0M837.2 118.6h0M838.3 118.6h0M839.4 118.6h0M840.6 118.6h0M841.7 118.6h0M842.8 118.6h0M844.0 118.6h0M845.1 118.6h0M846.2 118.6h0M847.4 118.6h0M848.5 118.6h0M849.6 118.6h0M850.7 118.6h0M851.9 118.6h0M853.0 118.6h0M854.1 118.6h0M855.3 118.6h0M856.4 118.6h0M857.5 118.6h0M858.7 118.6h0M859.8 118.6h0M860.9 118.6h0M862.1 118.6h0M863.2 118.6h0M864.3 118.6h0M865.5 118.6h0M866.6 118.6h0M867.7 118.6h0M868.8 118.6h0M870.0 118.6h0M871.1 118.6h0M872.2 118.6h0M873.4 118.6h0M874.5 118.6h0M875.6 118.6h0M876.8 118.6h0M877.9 118.6h0M879.0 118.6h0M880.2 118.6h0M881.3 118.6h0M882.4 118.6h0M883.6 118.6h0M884.7 118.6h0M885.8 118.6h0M886.9 118.6h0M888.1 118.6h0M889.2 118.6h0M890.3 118.6h0M891.5 118.6h0M892.6 118.6h0M893.7 118.6h0M894.9 118.6h0M896.0 118.6h0M897.1 118.6h0M898.3 118.6h0M899.4 118.6h0M900.5 118.6h0M901.7 118.6h0M902.8 118.6h0M903.9 118.6h0M905.0 118.6h0M906.2 118.6h0M907.3 118.6h0M908.4 118.6h0M909.6 118.6h0M910.7 118.6h0M911.8 118.6h0M942.4 118.6h0M943.5 118.6h0M944.6 118.6h0M945.8 118.6h0" stroke="#660066" stroke-width="5.9" stroke-linecap="round" fill="none"/>
</g>
<rect x="122.0" y="112.0" width="867.0" height="391.0" fill="none" stroke="#000" stroke-width="2.2"/>
<line x1="112.0" x2="122.0" y1="499" y2="499" stroke="#000" stroke-width="2.2"/>
<text x="102.4" y="507.9" font-size="25" text-anchor="end">0</text>
<line x1="116.0" x2="122.0" y1="461" y2="461" stroke="#000" stroke-width="1.8"/>
<line x1="112.0" x2="122.0" y1="424" y2="424" stroke="#000" stroke-width="2.2"/>
<text x="102.4" y="433.1" font-size="25" text-anchor="end">20</text>
<line x1="116.0" x2="122.0" y1="387" y2="387" stroke="#000" stroke-width="1.8"/>
<line x1="112.0" x2="122.0" y1="349" y2="349" stroke="#000" stroke-width="2.2"/>
<text x="102.4" y="358.3" font-size="25" text-anchor="end">40</text>
<line x1="116.0" x2="122.0" y1="312" y2="312" stroke="#000" stroke-width="1.8"/>
<line x1="112.0" x2="122.0" y1="274" y2="274" stroke="#000" stroke-width="2.2"/>
<text x="102.4" y="283.5" font-size="25" text-anchor="end">60</text>
<line x1="116.0" x2="122.0" y1="237" y2="237" stroke="#000" stroke-width="1.8"/>
<line x1="112.0" x2="122.0" y1="200" y2="200" stroke="#000" stroke-width="2.2"/>
<text x="102.4" y="208.7" font-size="25" text-anchor="end">80</text>
<line x1="116.0" x2="122.0" y1="162" y2="162" stroke="#000" stroke-width="1.8"/>
<line x1="112.0" x2="122.0" y1="125" y2="125" stroke="#000" stroke-width="2.2"/>
<text x="102.4" y="133.9" font-size="25" text-anchor="end">100</text>
<line x1="135" x2="135" y1="503.0" y2="508.9" stroke="#000" stroke-width="1.8"/>
<line x1="170" x2="170" y1="503.0" y2="508.9" stroke="#000" stroke-width="1.8"/>
<line x1="204" x2="204" y1="503.0" y2="512.9" stroke="#000" stroke-width="2.2"/>
<text x="203.7" y="541.8" font-size="25" text-anchor="middle">07/2024</text>
<line x1="239" x2="239" y1="503.0" y2="508.9" stroke="#000" stroke-width="1.8"/>
<line x1="274" x2="274" y1="503.0" y2="508.9" stroke="#000" stroke-width="1.8"/>
<line x1="308" x2="308" y1="503.0" y2="508.9" stroke="#000" stroke-width="1.8"/>
<line x1="343" x2="343" y1="503.0" y2="508.9" stroke="#000" stroke-width="1.8"/>
<line x1="377" x2="377" y1="503.0" y2="508.9" stroke="#000" stroke-width="1.8"/>
<line x1="412" x2="412" y1="503.0" y2="512.9" stroke="#000" stroke-width="2.2"/>
<text x="411.8" y="541.8" font-size="25" text-anchor="middle">01/2025</text>
<line x1="447" x2="447" y1="503.0" y2="508.9" stroke="#000" stroke-width="1.8"/>
<line x1="479" x2="479" y1="503.0" y2="508.9" stroke="#000" stroke-width="1.8"/>
<line x1="514" x2="514" y1="503.0" y2="508.9" stroke="#000" stroke-width="1.8"/>
<line x1="548" x2="548" y1="503.0" y2="508.9" stroke="#000" stroke-width="1.8"/>
<line x1="583" x2="583" y1="503.0" y2="508.9" stroke="#000" stroke-width="1.8"/>
<line x1="617" x2="617" y1="503.0" y2="512.9" stroke="#000" stroke-width="2.2"/>
<text x="616.6" y="541.8" font-size="25" text-anchor="middle">07/2025</text>
<line x1="652" x2="652" y1="503.0" y2="508.9" stroke="#000" stroke-width="1.8"/>
<line x1="687" x2="687" y1="503.0" y2="508.9" stroke="#000" stroke-width="1.8"/>
<line x1="721" x2="721" y1="503.0" y2="508.9" stroke="#000" stroke-width="1.8"/>
<line x1="756" x2="756" y1="503.0" y2="508.9" stroke="#000" stroke-width="1.8"/>
<line x1="790" x2="790" y1="503.0" y2="508.9" stroke="#000" stroke-width="1.8"/>
<line x1="825" x2="825" y1="503.0" y2="512.9" stroke="#000" stroke-width="2.2"/>
<text x="824.7" y="541.8" font-size="25" text-anchor="middle">01/2026</text>
<line x1="860" x2="860" y1="503.0" y2="508.9" stroke="#000" stroke-width="1.8"/>
<line x1="891" x2="891" y1="503.0" y2="508.9" stroke="#000" stroke-width="1.8"/>
<line x1="927" x2="927" y1="503.0" y2="508.9" stroke="#000" stroke-width="1.8"/>
<line x1="960" x2="960" y1="503.0" y2="508.9" stroke="#000" stroke-width="1.8"/>
<text x="555.5" y="42.8" font-size="30.56" font-weight="bold" text-anchor="middle">Observed/Expected GLONASS Observations</text>
<text x="555.0" y="87.2" font-size="27.78" text-anchor="middle">CAG100ITA - ROB-EUREF data node</text>
<text x="554.6" y="576.9" font-size="25" text-anchor="middle">Month/Year</text>
<text transform="translate(38,315.4) rotate(-90)" font-size="25" text-anchor="middle">Obs/Exp Observations (%)</text>
<text transform="translate(965.9,133.2) rotate(90) scale(0.79,1)" font-size="23.6">Now</text>
<rect x="36.9" y="598.5" width="949" height="79.8" rx="5.5" ry="5.5" fill="#fff" stroke="#d6d6d6" stroke-width="2.8"/>
<circle cx="58.4" cy="618.4" r="4.4" fill="#ffa6a6"/>
<text x="73" y="625.8" font-size="25">GLO 1f</text>
<circle cx="58.4" cy="654.6" r="4.4" fill="#b30000"/>
<text x="73" y="662.6" font-size="25">GLO 2+f</text>
<line x1="220.5" x2="246" y1="618.3" y2="618.3" stroke="#c791d6" stroke-width="0.9" stroke-opacity="0.75"/>
<circle cx="233.3" cy="618.3" r="4.15" fill="#c791d6"/>
<text x="247.8" y="625.6" font-size="25">obs ele</text>
<line x1="380" x2="405.6" y1="618.3" y2="618.3" stroke="#000" stroke-width="2.8" stroke-dasharray="3 4.5"/>
<circle cx="392.9" cy="618.3" r="2.7" fill="#000"/>
<text x="406.8" y="626.6" font-size="25">log ele</text>
<circle cx="545.4" cy="618.4" r="4.4" fill="#807dba"/>
<text x="560.4" y="625.8" font-size="25">RINEX2</text>
<circle cx="707.5" cy="618.4" r="4.4" fill="#660066"/>
<text x="722" y="625.8" font-size="25">RINEX3</text>
<circle cx="868.4" cy="618.4" r="4.4" fill="#200020"/>
<text x="883.4" y="625.8" font-size="25">RINEX4</text>
<text x="35.6" y="709.8" font-size="19.4" font-style="italic">Tue Apr 21 12:19:28 2026</text>
<text x="969.3" y="709.8" font-size="19.2" font-style="italic" text-anchor="end">©GNSS@ROB</text>
</svg>
</body></html>
